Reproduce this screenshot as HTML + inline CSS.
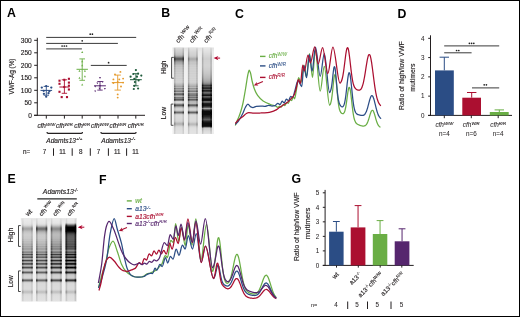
<!DOCTYPE html>
<html><head><meta charset="utf-8"><style>
html,body{margin:0;padding:0;background:#fff;}
body{width:520px;height:317px;overflow:hidden;}
svg{display:block;font-family:"Liberation Sans", sans-serif;will-change:transform;}
</style></head><body>
<svg width="520" height="317" viewBox="0 0 520 317" font-family='"Liberation Sans", sans-serif' fill="#231f20">
<rect x="0" y="0" width="520" height="317" fill="#fff"/>
<text x="7.1" y="17.4" font-size="12.3" fill="#000" font-weight="bold">A</text>
<line x1="37.3" y1="37.8" x2="37.3" y2="115.8" stroke="#231f20" stroke-width="1"/>
<line x1="34" y1="115.3" x2="145" y2="115.3" stroke="#231f20" stroke-width="1"/>
<line x1="34.2" y1="115.3" x2="37.3" y2="115.3" stroke="#231f20" stroke-width="1"/>
<text x="31.8" y="117.6" font-size="6.6" text-anchor="end" stroke="#231f20" stroke-width="0.15">0</text>
<line x1="34.2" y1="102.8" x2="37.3" y2="102.8" stroke="#231f20" stroke-width="1"/>
<text x="31.8" y="105.1" font-size="6.6" text-anchor="end" stroke="#231f20" stroke-width="0.15">50</text>
<line x1="34.2" y1="90.3" x2="37.3" y2="90.3" stroke="#231f20" stroke-width="1"/>
<text x="31.8" y="92.6" font-size="6.6" text-anchor="end" stroke="#231f20" stroke-width="0.15">100</text>
<line x1="34.2" y1="77.8" x2="37.3" y2="77.8" stroke="#231f20" stroke-width="1"/>
<text x="31.8" y="80.1" font-size="6.6" text-anchor="end" stroke="#231f20" stroke-width="0.15">150</text>
<line x1="34.2" y1="65.3" x2="37.3" y2="65.3" stroke="#231f20" stroke-width="1"/>
<text x="31.8" y="67.6" font-size="6.6" text-anchor="end" stroke="#231f20" stroke-width="0.15">200</text>
<line x1="34.2" y1="52.8" x2="37.3" y2="52.8" stroke="#231f20" stroke-width="1"/>
<text x="31.8" y="55.1" font-size="6.6" text-anchor="end" stroke="#231f20" stroke-width="0.15">250</text>
<line x1="34.2" y1="40.3" x2="37.3" y2="40.3" stroke="#231f20" stroke-width="1"/>
<text x="31.8" y="42.6" font-size="6.6" text-anchor="end" stroke="#231f20" stroke-width="0.15">300</text>
<text x="14.1" y="76.5" font-size="7" text-anchor="middle" transform="rotate(-90 14.1 76.5)" textLength="35.9" lengthAdjust="spacingAndGlyphs" stroke="#231f20" stroke-width="0.15">VWF-Ag (%)</text>
<line x1="46.3" y1="115.3" x2="46.3" y2="118.6" stroke="#231f20" stroke-width="1"/>
<text x="46.3" y="127.6" font-size="6.4" text-anchor="middle" font-style="italic" stroke="#231f20" stroke-width="0.15">cfh<tspan font-size="4.3" dy="-2.1" stroke-width="0.12">W/W</tspan></text>
<line x1="64.4" y1="115.3" x2="64.4" y2="118.6" stroke="#231f20" stroke-width="1"/>
<text x="64.4" y="127.6" font-size="6.4" text-anchor="middle" font-style="italic" stroke="#231f20" stroke-width="0.15">cfh<tspan font-size="4.3" dy="-2.1" stroke-width="0.12">W/R</tspan></text>
<line x1="82.2" y1="115.3" x2="82.2" y2="118.6" stroke="#231f20" stroke-width="1"/>
<text x="82.2" y="127.6" font-size="6.4" text-anchor="middle" font-style="italic" stroke="#231f20" stroke-width="0.15">cfh<tspan font-size="4.3" dy="-2.1" stroke-width="0.12">R/R</tspan></text>
<line x1="100" y1="115.3" x2="100" y2="118.6" stroke="#231f20" stroke-width="1"/>
<text x="100" y="127.6" font-size="6.4" text-anchor="middle" font-style="italic" stroke="#231f20" stroke-width="0.15">cfh<tspan font-size="4.3" dy="-2.1" stroke-width="0.12">W/W</tspan></text>
<line x1="118" y1="115.3" x2="118" y2="118.6" stroke="#231f20" stroke-width="1"/>
<text x="118" y="127.6" font-size="6.4" text-anchor="middle" font-style="italic" stroke="#231f20" stroke-width="0.15">cfh<tspan font-size="4.3" dy="-2.1" stroke-width="0.12">W/R</tspan></text>
<line x1="135.8" y1="115.3" x2="135.8" y2="118.6" stroke="#231f20" stroke-width="1"/>
<text x="135.8" y="127.6" font-size="6.4" text-anchor="middle" font-style="italic" stroke="#231f20" stroke-width="0.15">cfh<tspan font-size="4.3" dy="-2.1" stroke-width="0.12">R/R</tspan></text>
<path d="M47,132 Q47,133.4 48.2,133.4 L81.3,133.4 Q82.5,133.4 82.5,132" fill="none" stroke="#231f20" stroke-width="1.2"/>
<path d="M100.9,132 Q100.9,133.4 102.10000000000001,133.4 L134.9,133.4 Q136.1,133.4 136.1,132" fill="none" stroke="#231f20" stroke-width="1.2"/>
<text x="46.3" y="142.7" font-size="6.6" font-style="italic" stroke="#231f20" stroke-width="0.15">Adamts13<tspan font-size="4.4" dy="-2.8">+/+</tspan></text>
<text x="101.3" y="142.7" font-size="6.6" font-style="italic" stroke="#231f20" stroke-width="0.15">Adamts13<tspan font-size="4.4" dy="-2.8">-/-</tspan></text>
<text x="23" y="153.8" font-size="6.3" stroke="#231f20" stroke-width="0.15">n=</text>
<text x="44.4" y="153.8" font-size="6.3" text-anchor="middle" stroke="#231f20" stroke-width="0.15">7</text>
<text x="62.6" y="153.8" font-size="6.3" text-anchor="middle" stroke="#231f20" stroke-width="0.15">11</text>
<text x="80.8" y="153.8" font-size="6.3" text-anchor="middle" stroke="#231f20" stroke-width="0.15">8</text>
<text x="98.5" y="153.8" font-size="6.3" text-anchor="middle" stroke="#231f20" stroke-width="0.15">7</text>
<text x="117.3" y="153.8" font-size="6.3" text-anchor="middle" stroke="#231f20" stroke-width="0.15">11</text>
<text x="135.4" y="153.8" font-size="6.3" text-anchor="middle" stroke="#231f20" stroke-width="0.15">11</text>
<line x1="53.5" y1="148.3" x2="53.5" y2="155.8" stroke="#231f20" stroke-width="1"/>
<line x1="72.2" y1="148.3" x2="72.2" y2="155.8" stroke="#231f20" stroke-width="1"/>
<line x1="90.3" y1="148.3" x2="90.3" y2="155.8" stroke="#231f20" stroke-width="1"/>
<line x1="108.4" y1="148.3" x2="108.4" y2="155.8" stroke="#231f20" stroke-width="1"/>
<line x1="126.6" y1="148.3" x2="126.6" y2="155.8" stroke="#231f20" stroke-width="1"/>
<line x1="46.2" y1="37.4" x2="136.2" y2="37.4" stroke="#3a3a3a" stroke-width="1"/>
<line x1="46.2" y1="43.4" x2="117.9" y2="43.4" stroke="#3a3a3a" stroke-width="1"/>
<line x1="46.2" y1="48.9" x2="81.9" y2="48.9" stroke="#3a3a3a" stroke-width="1"/>
<line x1="90.8" y1="65.4" x2="126.7" y2="65.4" stroke="#3a3a3a" stroke-width="1"/>
<circle cx="90.2" cy="34.2" r="0.85" fill="#222"/>
<circle cx="92.4" cy="34.2" r="0.85" fill="#222"/>
<circle cx="82.2" cy="40.8" r="0.85" fill="#222"/>
<circle cx="62.1" cy="46" r="0.85" fill="#222"/>
<circle cx="64.3" cy="46" r="0.85" fill="#222"/>
<circle cx="66.5" cy="46" r="0.85" fill="#222"/>
<circle cx="108.6" cy="62.7" r="0.85" fill="#222"/>
<circle cx="46.2" cy="86.1" r="1.15" fill="#2b4d85"/>
<circle cx="41.8" cy="87.6" r="1.15" fill="#2b4d85"/>
<circle cx="51.3" cy="87.6" r="1.15" fill="#2b4d85"/>
<circle cx="43.7" cy="90.8" r="1.15" fill="#2b4d85"/>
<circle cx="49.4" cy="91.2" r="1.15" fill="#2b4d85"/>
<circle cx="43.9" cy="93.8" r="1.15" fill="#2b4d85"/>
<circle cx="48.5" cy="93.2" r="1.15" fill="#2b4d85"/>
<circle cx="46.2" cy="96.7" r="1.15" fill="#2b4d85"/>
<line x1="40.5" y1="90.4" x2="52.1" y2="90.4" stroke="#2b4d85" stroke-width="1"/>
<line x1="46.3" y1="86.4" x2="46.3" y2="95.2" stroke="#2b4d85" stroke-width="0.9"/>
<line x1="43.6" y1="86.4" x2="49" y2="86.4" stroke="#2b4d85" stroke-width="0.9"/>
<line x1="43.6" y1="95.2" x2="49" y2="95.2" stroke="#2b4d85" stroke-width="0.9"/>
<rect x="58.45" y="79.65" width="2.1" height="2.1" fill="#ab0f30"/>
<rect x="63.25" y="78.75" width="2.1" height="2.1" fill="#ab0f30"/>
<rect x="67.85" y="77.75" width="2.1" height="2.1" fill="#ab0f30"/>
<rect x="58.45" y="82.75" width="2.1" height="2.1" fill="#ab0f30"/>
<rect x="67.85" y="81.55" width="2.1" height="2.1" fill="#ab0f30"/>
<rect x="67.85" y="84.65" width="2.1" height="2.1" fill="#ab0f30"/>
<rect x="63.25" y="85.95" width="2.1" height="2.1" fill="#ab0f30"/>
<rect x="67.85" y="88.45" width="2.1" height="2.1" fill="#ab0f30"/>
<rect x="58.45" y="90.75" width="2.1" height="2.1" fill="#ab0f30"/>
<rect x="60.65" y="96.05" width="2.1" height="2.1" fill="#ab0f30"/>
<rect x="65.95" y="96.05" width="2.1" height="2.1" fill="#ab0f30"/>
<line x1="59.4" y1="87" x2="69.4" y2="87" stroke="#ab0f30" stroke-width="1"/>
<line x1="64.4" y1="79.8" x2="64.4" y2="93.3" stroke="#ab0f30" stroke-width="0.9"/>
<line x1="61.7" y1="79.8" x2="67.1" y2="79.8" stroke="#ab0f30" stroke-width="0.9"/>
<line x1="61.7" y1="93.3" x2="67.1" y2="93.3" stroke="#ab0f30" stroke-width="0.9"/>
<path d="M82.2,51.06 L83.25,52.96 L81.16,52.96 Z" fill="#6aae45"/>
<path d="M82.2,60.26 L83.25,62.16 L81.16,62.16 Z" fill="#6aae45"/>
<path d="M82.2,64.26 L83.25,66.16 L81.16,66.16 Z" fill="#6aae45"/>
<path d="M79.5,69.76 L80.55,71.66 L78.45,71.66 Z" fill="#6aae45"/>
<path d="M84.9,69.76 L85.95,71.66 L83.86,71.66 Z" fill="#6aae45"/>
<path d="M79.5,76.86 L80.55,78.76 L78.45,78.76 Z" fill="#6aae45"/>
<path d="M84.9,75.36 L85.95,77.26 L83.86,77.26 Z" fill="#6aae45"/>
<path d="M82.2,83.56 L83.25,85.46 L81.16,85.46 Z" fill="#6aae45"/>
<line x1="76.5" y1="69.3" x2="87.9" y2="69.3" stroke="#6aae45" stroke-width="1"/>
<line x1="82.2" y1="58.9" x2="82.2" y2="80.3" stroke="#6aae45" stroke-width="0.9"/>
<line x1="79.4" y1="58.9" x2="85" y2="58.9" stroke="#6aae45" stroke-width="0.9"/>
<line x1="79.4" y1="80.3" x2="85" y2="80.3" stroke="#6aae45" stroke-width="0.9"/>
<path d="M100,78.88 L100.99,77.08 L99.01,77.08 Z" fill="#56266e"/>
<path d="M97.4,84.18 L98.39,82.38 L96.41,82.38 Z" fill="#56266e"/>
<path d="M102.7,82.98 L103.69,81.18 L101.71,81.18 Z" fill="#56266e"/>
<path d="M95.2,87.48 L96.19,85.68 L94.21,85.68 Z" fill="#56266e"/>
<path d="M100,86.88 L100.99,85.08 L99.01,85.08 Z" fill="#56266e"/>
<path d="M104.9,89.78 L105.89,87.98 L103.91,87.98 Z" fill="#56266e"/>
<path d="M95.2,92.28 L96.19,90.48 L94.21,90.48 Z" fill="#56266e"/>
<path d="M99.5,89.58 L100.49,87.78 L98.51,87.78 Z" fill="#56266e"/>
<line x1="94.1" y1="85.8" x2="105.9" y2="85.8" stroke="#56266e" stroke-width="1"/>
<line x1="100" y1="81.5" x2="100" y2="90.1" stroke="#56266e" stroke-width="0.9"/>
<line x1="97.3" y1="81.5" x2="102.7" y2="81.5" stroke="#56266e" stroke-width="0.9"/>
<line x1="97.3" y1="90.1" x2="102.7" y2="90.1" stroke="#56266e" stroke-width="0.9"/>
<circle cx="120.4" cy="71.9" r="0.95" fill="#e59a2c"/>
<circle cx="115" cy="74.4" r="0.95" fill="#e59a2c"/>
<circle cx="113.4" cy="79.4" r="0.95" fill="#e59a2c"/>
<circle cx="119.3" cy="79.4" r="0.95" fill="#e59a2c"/>
<circle cx="123.1" cy="78.6" r="0.95" fill="#e59a2c"/>
<circle cx="113.4" cy="83.1" r="0.95" fill="#e59a2c"/>
<circle cx="117.7" cy="81.9" r="0.95" fill="#e59a2c"/>
<circle cx="123.1" cy="82.6" r="0.95" fill="#e59a2c"/>
<circle cx="117.7" cy="94.4" r="0.95" fill="#e59a2c"/>
<circle cx="117.7" cy="97.6" r="0.95" fill="#e59a2c"/>
<circle cx="121" cy="86.5" r="0.95" fill="#e59a2c"/>
<line x1="111.8" y1="82.6" x2="123.6" y2="82.6" stroke="#e59a2c" stroke-width="1"/>
<line x1="117.7" y1="75.1" x2="117.7" y2="90.1" stroke="#e59a2c" stroke-width="0.9"/>
<line x1="114.5" y1="75.1" x2="120.9" y2="75.1" stroke="#e59a2c" stroke-width="0.9"/>
<line x1="114.5" y1="90.1" x2="120.9" y2="90.1" stroke="#e59a2c" stroke-width="0.9"/>
<circle cx="135.9" cy="70.1" r="1.1" fill="#1e5b3b"/>
<circle cx="133.3" cy="74" r="1.1" fill="#1e5b3b"/>
<circle cx="138.1" cy="73.7" r="1.1" fill="#1e5b3b"/>
<circle cx="130.6" cy="76.7" r="1.1" fill="#1e5b3b"/>
<circle cx="141.3" cy="75.6" r="1.1" fill="#1e5b3b"/>
<circle cx="137" cy="76.7" r="1.1" fill="#1e5b3b"/>
<circle cx="134.3" cy="78.9" r="1.1" fill="#1e5b3b"/>
<circle cx="138.6" cy="80.5" r="1.1" fill="#1e5b3b"/>
<circle cx="134.9" cy="82.1" r="1.1" fill="#1e5b3b"/>
<circle cx="134.3" cy="85.8" r="1.1" fill="#1e5b3b"/>
<circle cx="133.8" cy="89" r="1.1" fill="#1e5b3b"/>
<circle cx="138.1" cy="88.5" r="1.1" fill="#1e5b3b"/>
<line x1="130" y1="79.7" x2="141.8" y2="79.7" stroke="#1e5b3b" stroke-width="1"/>
<line x1="135.9" y1="73.7" x2="135.9" y2="85.8" stroke="#1e5b3b" stroke-width="0.9"/>
<line x1="133.2" y1="73.7" x2="138.6" y2="73.7" stroke="#1e5b3b" stroke-width="0.9"/>
<line x1="133.2" y1="85.8" x2="138.6" y2="85.8" stroke="#1e5b3b" stroke-width="0.9"/>
<text x="161.2" y="17.2" font-size="12.3" fill="#000" font-weight="bold">B</text>
<defs><linearGradient id="edg" x1="0" y1="0" x2="1" y2="0"><stop offset="0" stop-color="#fff"/><stop offset="0.08" stop-color="#fff"/><stop offset="0.22" stop-color="#000"/><stop offset="0.78" stop-color="#000"/><stop offset="0.92" stop-color="#fff"/><stop offset="1" stop-color="#fff"/></linearGradient><mask id="edgm" maskContentUnits="objectBoundingBox"><rect x="0" y="0" width="1" height="1" fill="url(#edg)"/></mask></defs>
<defs><filter id="bl" x="-20%" y="-2%" width="140%" height="104%"><feGaussianBlur stdDeviation="0.45"/></filter><filter id="bl2" x="-20%" y="-2%" width="140%" height="104%"><feGaussianBlur stdDeviation="0.3"/></filter></defs>
<defs><linearGradient id="gbB" x1="0" y1="0" x2="0" y2="1"><stop offset="0" stop-color="#e2e2e2"/><stop offset="0.05" stop-color="#ececec"/><stop offset="0.5" stop-color="#f2f2f2"/><stop offset="1" stop-color="#eeeeee"/></linearGradient></defs>
<rect x="172.5" y="47.5" width="41.5" height="86.5" fill="url(#gbB)" filter="url(#bl2)"/>
<defs><linearGradient id="g2" x1="0" y1="0" x2="0" y2="1"><stop offset="0.000" stop-color="#dedede"/><stop offset="0.006" stop-color="#dbdbdb"/><stop offset="0.012" stop-color="#d9d9d9"/><stop offset="0.017" stop-color="#d6d6d6"/><stop offset="0.023" stop-color="#d4d4d4"/><stop offset="0.029" stop-color="#d3d3d3"/><stop offset="0.035" stop-color="#d1d1d1"/><stop offset="0.040" stop-color="#d0d0d0"/><stop offset="0.046" stop-color="#cecece"/><stop offset="0.052" stop-color="#cdcdcd"/><stop offset="0.058" stop-color="#cacaca"/><stop offset="0.064" stop-color="#c8c8c8"/><stop offset="0.069" stop-color="#c5c5c5"/><stop offset="0.075" stop-color="#c3c3c3"/><stop offset="0.081" stop-color="#c0c0c0"/><stop offset="0.087" stop-color="#bcbcbc"/><stop offset="0.092" stop-color="#b5b5b5"/><stop offset="0.098" stop-color="#acacac"/><stop offset="0.104" stop-color="#9e9e9e"/><stop offset="0.110" stop-color="#8c8c8c"/><stop offset="0.116" stop-color="#7a7a7a"/><stop offset="0.121" stop-color="#696969"/><stop offset="0.127" stop-color="#5d5d5d"/><stop offset="0.133" stop-color="#595959"/><stop offset="0.139" stop-color="#5f5f5f"/><stop offset="0.145" stop-color="#6c6c6c"/><stop offset="0.150" stop-color="#7b7b7b"/><stop offset="0.156" stop-color="#898989"/><stop offset="0.162" stop-color="#959595"/><stop offset="0.168" stop-color="#9e9e9e"/><stop offset="0.173" stop-color="#a5a5a5"/><stop offset="0.179" stop-color="#a9a9a9"/><stop offset="0.185" stop-color="#acacac"/><stop offset="0.191" stop-color="#b0b0b0"/><stop offset="0.197" stop-color="#b6b6b6"/><stop offset="0.202" stop-color="#bdbdbd"/><stop offset="0.208" stop-color="#c0c0c0"/><stop offset="0.214" stop-color="#bfbfbf"/><stop offset="0.220" stop-color="#c0c0c0"/><stop offset="0.225" stop-color="#c4c4c4"/><stop offset="0.231" stop-color="#c7c7c7"/><stop offset="0.237" stop-color="#c7c7c7"/><stop offset="0.243" stop-color="#c5c5c5"/><stop offset="0.249" stop-color="#c6c6c6"/><stop offset="0.254" stop-color="#c9c9c9"/><stop offset="0.260" stop-color="#cbcbcb"/><stop offset="0.266" stop-color="#cacaca"/><stop offset="0.272" stop-color="#c8c8c8"/><stop offset="0.277" stop-color="#c9c9c9"/><stop offset="0.283" stop-color="#cccccc"/><stop offset="0.289" stop-color="#cecece"/><stop offset="0.295" stop-color="#cccccc"/><stop offset="0.301" stop-color="#cbcbcb"/><stop offset="0.306" stop-color="#cccccc"/><stop offset="0.312" stop-color="#cfcfcf"/><stop offset="0.318" stop-color="#d0d0d0"/><stop offset="0.324" stop-color="#cecece"/><stop offset="0.329" stop-color="#cccccc"/><stop offset="0.335" stop-color="#cecece"/><stop offset="0.341" stop-color="#d1d1d1"/><stop offset="0.347" stop-color="#d1d1d1"/><stop offset="0.353" stop-color="#cecece"/><stop offset="0.358" stop-color="#cdcdcd"/><stop offset="0.364" stop-color="#d0d0d0"/><stop offset="0.370" stop-color="#d2d2d2"/><stop offset="0.376" stop-color="#d1d1d1"/><stop offset="0.382" stop-color="#cfcfcf"/><stop offset="0.387" stop-color="#cecece"/><stop offset="0.393" stop-color="#d1d1d1"/><stop offset="0.399" stop-color="#d2d2d2"/><stop offset="0.405" stop-color="#cecece"/><stop offset="0.410" stop-color="#c8c8c8"/><stop offset="0.416" stop-color="#c5c5c5"/><stop offset="0.422" stop-color="#c1c1c1"/><stop offset="0.428" stop-color="#bbbbbb"/><stop offset="0.434" stop-color="#b9b9b9"/><stop offset="0.439" stop-color="#b2b2b2"/><stop offset="0.445" stop-color="#a4a4a4"/><stop offset="0.451" stop-color="#a3a3a3"/><stop offset="0.457" stop-color="#b1b1b1"/><stop offset="0.462" stop-color="#b7b7b7"/><stop offset="0.468" stop-color="#a6a6a6"/><stop offset="0.474" stop-color="#8f8f8f"/><stop offset="0.480" stop-color="#929292"/><stop offset="0.486" stop-color="#a9a9a9"/><stop offset="0.491" stop-color="#b0b0b0"/><stop offset="0.497" stop-color="#969696"/><stop offset="0.503" stop-color="#767676"/><stop offset="0.509" stop-color="#7b7b7b"/><stop offset="0.514" stop-color="#9e9e9e"/><stop offset="0.520" stop-color="#b3b3b3"/><stop offset="0.526" stop-color="#a0a0a0"/><stop offset="0.532" stop-color="#7b7b7b"/><stop offset="0.538" stop-color="#6a6a6a"/><stop offset="0.543" stop-color="#686868"/><stop offset="0.549" stop-color="#757575"/><stop offset="0.555" stop-color="#989898"/><stop offset="0.561" stop-color="#b7b7b7"/><stop offset="0.566" stop-color="#b7b7b7"/><stop offset="0.572" stop-color="#9a9a9a"/><stop offset="0.578" stop-color="#7b7b7b"/><stop offset="0.584" stop-color="#7a7a7a"/><stop offset="0.590" stop-color="#888888"/><stop offset="0.595" stop-color="#7b7b7b"/><stop offset="0.601" stop-color="#5a5a5a"/><stop offset="0.607" stop-color="#585858"/><stop offset="0.613" stop-color="#838383"/><stop offset="0.618" stop-color="#b5b5b5"/><stop offset="0.624" stop-color="#d0d0d0"/><stop offset="0.630" stop-color="#dadada"/><stop offset="0.636" stop-color="#d8d8d8"/><stop offset="0.642" stop-color="#cfcfcf"/><stop offset="0.647" stop-color="#bdbdbd"/><stop offset="0.653" stop-color="#9f9f9f"/><stop offset="0.659" stop-color="#7a7a7a"/><stop offset="0.665" stop-color="#606060"/><stop offset="0.671" stop-color="#5f5f5f"/><stop offset="0.676" stop-color="#767676"/><stop offset="0.682" stop-color="#959595"/><stop offset="0.688" stop-color="#acacac"/><stop offset="0.694" stop-color="#c0c0c0"/><stop offset="0.699" stop-color="#cbcbcb"/><stop offset="0.705" stop-color="#d1d1d1"/><stop offset="0.711" stop-color="#d7d7d7"/><stop offset="0.717" stop-color="#d5d5d5"/><stop offset="0.723" stop-color="#d2d2d2"/><stop offset="0.728" stop-color="#cacaca"/><stop offset="0.734" stop-color="#b8b8b8"/><stop offset="0.740" stop-color="#9a9a9a"/><stop offset="0.746" stop-color="#7a7a7a"/><stop offset="0.751" stop-color="#6c6c6c"/><stop offset="0.757" stop-color="#7c7c7c"/><stop offset="0.763" stop-color="#9e9e9e"/><stop offset="0.769" stop-color="#bebebe"/><stop offset="0.775" stop-color="#d0d0d0"/><stop offset="0.780" stop-color="#d8d8d8"/><stop offset="0.786" stop-color="#d9d9d9"/><stop offset="0.792" stop-color="#d9d9d9"/><stop offset="0.798" stop-color="#d9d9d9"/><stop offset="0.803" stop-color="#d9d9d9"/><stop offset="0.809" stop-color="#d9d9d9"/><stop offset="0.815" stop-color="#d8d8d8"/><stop offset="0.821" stop-color="#d8d8d8"/><stop offset="0.827" stop-color="#d8d8d8"/><stop offset="0.832" stop-color="#d7d7d7"/><stop offset="0.838" stop-color="#d7d7d7"/><stop offset="0.844" stop-color="#d6d6d6"/><stop offset="0.850" stop-color="#d4d4d4"/><stop offset="0.855" stop-color="#d1d1d1"/><stop offset="0.861" stop-color="#cbcbcb"/><stop offset="0.867" stop-color="#c4c4c4"/><stop offset="0.873" stop-color="#bdbdbd"/><stop offset="0.879" stop-color="#b6b6b6"/><stop offset="0.884" stop-color="#b4b4b4"/><stop offset="0.890" stop-color="#b7b7b7"/><stop offset="0.896" stop-color="#bebebe"/><stop offset="0.902" stop-color="#c7c7c7"/><stop offset="0.908" stop-color="#cfcfcf"/><stop offset="0.913" stop-color="#d5d5d5"/><stop offset="0.919" stop-color="#dadada"/><stop offset="0.925" stop-color="#dcdcdc"/><stop offset="0.931" stop-color="#dedede"/><stop offset="0.936" stop-color="#dedede"/><stop offset="0.942" stop-color="#dfdfdf"/><stop offset="0.948" stop-color="#dfdfdf"/><stop offset="0.954" stop-color="#dfdfdf"/><stop offset="0.960" stop-color="#e0e0e0"/><stop offset="0.965" stop-color="#e0e0e0"/><stop offset="0.971" stop-color="#e1e1e1"/><stop offset="0.977" stop-color="#e1e1e1"/><stop offset="0.983" stop-color="#e1e1e1"/><stop offset="0.988" stop-color="#e2e2e2"/><stop offset="0.994" stop-color="#e2e2e2"/><stop offset="1.000" stop-color="#ebebeb"/></linearGradient></defs>
<g filter="url(#bl)"><rect x="174" y="47.5" width="10" height="86.5" fill="url(#g2)"/><rect x="174" y="47.5" width="10" height="86.5" fill="url(#g2)" mask="url(#edgm)" opacity="0.7" style="mix-blend-mode:multiply"/></g>
<defs><linearGradient id="g3" x1="0" y1="0" x2="0" y2="1"><stop offset="0.000" stop-color="#e4e4e4"/><stop offset="0.006" stop-color="#e2e2e2"/><stop offset="0.012" stop-color="#e1e1e1"/><stop offset="0.017" stop-color="#dfdfdf"/><stop offset="0.023" stop-color="#dedede"/><stop offset="0.029" stop-color="#dcdcdc"/><stop offset="0.035" stop-color="#dbdbdb"/><stop offset="0.040" stop-color="#d9d9d9"/><stop offset="0.046" stop-color="#d8d8d8"/><stop offset="0.052" stop-color="#d7d7d7"/><stop offset="0.058" stop-color="#d5d5d5"/><stop offset="0.064" stop-color="#d4d4d4"/><stop offset="0.069" stop-color="#d3d3d3"/><stop offset="0.075" stop-color="#d2d2d2"/><stop offset="0.081" stop-color="#d1d1d1"/><stop offset="0.087" stop-color="#d0d0d0"/><stop offset="0.092" stop-color="#cecece"/><stop offset="0.098" stop-color="#cccccc"/><stop offset="0.104" stop-color="#c8c8c8"/><stop offset="0.110" stop-color="#c2c2c2"/><stop offset="0.116" stop-color="#bcbcbc"/><stop offset="0.121" stop-color="#b5b5b5"/><stop offset="0.127" stop-color="#afafaf"/><stop offset="0.133" stop-color="#acacac"/><stop offset="0.139" stop-color="#adadad"/><stop offset="0.145" stop-color="#b1b1b1"/><stop offset="0.150" stop-color="#b6b6b6"/><stop offset="0.156" stop-color="#bcbcbc"/><stop offset="0.162" stop-color="#c0c0c0"/><stop offset="0.168" stop-color="#c3c3c3"/><stop offset="0.173" stop-color="#c6c6c6"/><stop offset="0.179" stop-color="#c7c7c7"/><stop offset="0.185" stop-color="#c6c6c6"/><stop offset="0.191" stop-color="#c7c7c7"/><stop offset="0.197" stop-color="#cacaca"/><stop offset="0.202" stop-color="#cecece"/><stop offset="0.208" stop-color="#cecece"/><stop offset="0.214" stop-color="#cdcdcd"/><stop offset="0.220" stop-color="#cdcdcd"/><stop offset="0.225" stop-color="#cfcfcf"/><stop offset="0.231" stop-color="#d1d1d1"/><stop offset="0.237" stop-color="#d1d1d1"/><stop offset="0.243" stop-color="#cfcfcf"/><stop offset="0.249" stop-color="#cfcfcf"/><stop offset="0.254" stop-color="#d1d1d1"/><stop offset="0.260" stop-color="#d3d3d3"/><stop offset="0.266" stop-color="#d1d1d1"/><stop offset="0.272" stop-color="#cfcfcf"/><stop offset="0.277" stop-color="#d0d0d0"/><stop offset="0.283" stop-color="#d2d2d2"/><stop offset="0.289" stop-color="#d3d3d3"/><stop offset="0.295" stop-color="#d2d2d2"/><stop offset="0.301" stop-color="#d0d0d0"/><stop offset="0.306" stop-color="#d1d1d1"/><stop offset="0.312" stop-color="#d3d3d3"/><stop offset="0.318" stop-color="#d3d3d3"/><stop offset="0.324" stop-color="#d2d2d2"/><stop offset="0.329" stop-color="#d0d0d0"/><stop offset="0.335" stop-color="#d2d2d2"/><stop offset="0.341" stop-color="#d4d4d4"/><stop offset="0.347" stop-color="#d4d4d4"/><stop offset="0.353" stop-color="#d2d2d2"/><stop offset="0.358" stop-color="#d1d1d1"/><stop offset="0.364" stop-color="#d3d3d3"/><stop offset="0.370" stop-color="#d4d4d4"/><stop offset="0.376" stop-color="#d4d4d4"/><stop offset="0.382" stop-color="#d1d1d1"/><stop offset="0.387" stop-color="#d1d1d1"/><stop offset="0.393" stop-color="#d3d3d3"/><stop offset="0.399" stop-color="#d3d3d3"/><stop offset="0.405" stop-color="#d0d0d0"/><stop offset="0.410" stop-color="#cbcbcb"/><stop offset="0.416" stop-color="#c9c9c9"/><stop offset="0.422" stop-color="#c5c5c5"/><stop offset="0.428" stop-color="#bebebe"/><stop offset="0.434" stop-color="#bcbcbc"/><stop offset="0.439" stop-color="#b6b6b6"/><stop offset="0.445" stop-color="#aaaaaa"/><stop offset="0.451" stop-color="#a8a8a8"/><stop offset="0.457" stop-color="#b5b5b5"/><stop offset="0.462" stop-color="#bababa"/><stop offset="0.468" stop-color="#a9a9a9"/><stop offset="0.474" stop-color="#949494"/><stop offset="0.480" stop-color="#979797"/><stop offset="0.486" stop-color="#acacac"/><stop offset="0.491" stop-color="#b2b2b2"/><stop offset="0.497" stop-color="#999999"/><stop offset="0.503" stop-color="#7b7b7b"/><stop offset="0.509" stop-color="#7f7f7f"/><stop offset="0.514" stop-color="#a1a1a1"/><stop offset="0.520" stop-color="#b5b5b5"/><stop offset="0.526" stop-color="#a6a6a6"/><stop offset="0.532" stop-color="#8b8b8b"/><stop offset="0.538" stop-color="#878787"/><stop offset="0.543" stop-color="#828282"/><stop offset="0.549" stop-color="#717171"/><stop offset="0.555" stop-color="#777777"/><stop offset="0.561" stop-color="#929292"/><stop offset="0.566" stop-color="#969696"/><stop offset="0.572" stop-color="#7d7d7d"/><stop offset="0.578" stop-color="#737373"/><stop offset="0.584" stop-color="#8a8a8a"/><stop offset="0.590" stop-color="#9c9c9c"/><stop offset="0.595" stop-color="#878787"/><stop offset="0.601" stop-color="#616161"/><stop offset="0.607" stop-color="#5d5d5d"/><stop offset="0.613" stop-color="#858585"/><stop offset="0.618" stop-color="#acacac"/><stop offset="0.624" stop-color="#b5b5b5"/><stop offset="0.630" stop-color="#b2b2b2"/><stop offset="0.636" stop-color="#bbbbbb"/><stop offset="0.642" stop-color="#c5c5c5"/><stop offset="0.647" stop-color="#bbbbbb"/><stop offset="0.653" stop-color="#9f9f9f"/><stop offset="0.659" stop-color="#7a7a7a"/><stop offset="0.665" stop-color="#616161"/><stop offset="0.671" stop-color="#616161"/><stop offset="0.676" stop-color="#787878"/><stop offset="0.682" stop-color="#979797"/><stop offset="0.688" stop-color="#afafaf"/><stop offset="0.694" stop-color="#c2c2c2"/><stop offset="0.699" stop-color="#cccccc"/><stop offset="0.705" stop-color="#d1d1d1"/><stop offset="0.711" stop-color="#d6d6d6"/><stop offset="0.717" stop-color="#d5d5d5"/><stop offset="0.723" stop-color="#d2d2d2"/><stop offset="0.728" stop-color="#c9c9c9"/><stop offset="0.734" stop-color="#b5b5b5"/><stop offset="0.740" stop-color="#959595"/><stop offset="0.746" stop-color="#717171"/><stop offset="0.751" stop-color="#626262"/><stop offset="0.757" stop-color="#737373"/><stop offset="0.763" stop-color="#999999"/><stop offset="0.769" stop-color="#bbbbbb"/><stop offset="0.775" stop-color="#cfcfcf"/><stop offset="0.780" stop-color="#d8d8d8"/><stop offset="0.786" stop-color="#dadada"/><stop offset="0.792" stop-color="#dadada"/><stop offset="0.798" stop-color="#dadada"/><stop offset="0.803" stop-color="#dadada"/><stop offset="0.809" stop-color="#dadada"/><stop offset="0.815" stop-color="#dadada"/><stop offset="0.821" stop-color="#dadada"/><stop offset="0.827" stop-color="#dadada"/><stop offset="0.832" stop-color="#dadada"/><stop offset="0.838" stop-color="#d9d9d9"/><stop offset="0.844" stop-color="#d9d9d9"/><stop offset="0.850" stop-color="#d8d8d8"/><stop offset="0.855" stop-color="#d6d6d6"/><stop offset="0.861" stop-color="#d3d3d3"/><stop offset="0.867" stop-color="#cecece"/><stop offset="0.873" stop-color="#c7c7c7"/><stop offset="0.879" stop-color="#c0c0c0"/><stop offset="0.884" stop-color="#bcbcbc"/><stop offset="0.890" stop-color="#bbbbbb"/><stop offset="0.896" stop-color="#bfbfbf"/><stop offset="0.902" stop-color="#c7c7c7"/><stop offset="0.908" stop-color="#cfcfcf"/><stop offset="0.913" stop-color="#d5d5d5"/><stop offset="0.919" stop-color="#dadada"/><stop offset="0.925" stop-color="#dddddd"/><stop offset="0.931" stop-color="#dfdfdf"/><stop offset="0.936" stop-color="#e0e0e0"/><stop offset="0.942" stop-color="#e1e1e1"/><stop offset="0.948" stop-color="#e1e1e1"/><stop offset="0.954" stop-color="#e1e1e1"/><stop offset="0.960" stop-color="#e1e1e1"/><stop offset="0.965" stop-color="#e2e2e2"/><stop offset="0.971" stop-color="#e2e2e2"/><stop offset="0.977" stop-color="#e2e2e2"/><stop offset="0.983" stop-color="#e2e2e2"/><stop offset="0.988" stop-color="#e3e3e3"/><stop offset="0.994" stop-color="#e3e3e3"/><stop offset="1.000" stop-color="#ebebeb"/></linearGradient></defs>
<g filter="url(#bl)"><rect x="187.8" y="47.5" width="10" height="86.5" fill="url(#g3)"/><rect x="187.8" y="47.5" width="10" height="86.5" fill="url(#g3)" mask="url(#edgm)" opacity="0.9" style="mix-blend-mode:multiply"/></g>
<defs><linearGradient id="g4" x1="0" y1="0" x2="0" y2="1"><stop offset="0.000" stop-color="#e8e8e8"/><stop offset="0.006" stop-color="#e7e7e7"/><stop offset="0.012" stop-color="#e6e6e6"/><stop offset="0.017" stop-color="#e5e5e5"/><stop offset="0.023" stop-color="#e4e4e4"/><stop offset="0.029" stop-color="#e4e4e4"/><stop offset="0.035" stop-color="#e3e3e3"/><stop offset="0.040" stop-color="#e2e2e2"/><stop offset="0.046" stop-color="#e1e1e1"/><stop offset="0.052" stop-color="#e0e0e0"/><stop offset="0.058" stop-color="#dfdfdf"/><stop offset="0.064" stop-color="#dedede"/><stop offset="0.069" stop-color="#dcdcdc"/><stop offset="0.075" stop-color="#dbdbdb"/><stop offset="0.081" stop-color="#dadada"/><stop offset="0.087" stop-color="#d8d8d8"/><stop offset="0.092" stop-color="#d7d7d7"/><stop offset="0.098" stop-color="#d6d6d6"/><stop offset="0.104" stop-color="#d5d5d5"/><stop offset="0.110" stop-color="#d4d4d4"/><stop offset="0.116" stop-color="#d2d2d2"/><stop offset="0.121" stop-color="#d1d1d1"/><stop offset="0.127" stop-color="#d0d0d0"/><stop offset="0.133" stop-color="#cecece"/><stop offset="0.139" stop-color="#cfcfcf"/><stop offset="0.145" stop-color="#d2d2d2"/><stop offset="0.150" stop-color="#d2d2d2"/><stop offset="0.156" stop-color="#d2d2d2"/><stop offset="0.162" stop-color="#d2d2d2"/><stop offset="0.168" stop-color="#d3d3d3"/><stop offset="0.173" stop-color="#d3d3d3"/><stop offset="0.179" stop-color="#d3d3d3"/><stop offset="0.185" stop-color="#d3d3d3"/><stop offset="0.191" stop-color="#d3d3d3"/><stop offset="0.197" stop-color="#d4d4d4"/><stop offset="0.202" stop-color="#d4d4d4"/><stop offset="0.208" stop-color="#d4d4d4"/><stop offset="0.214" stop-color="#d4d4d4"/><stop offset="0.220" stop-color="#d3d3d3"/><stop offset="0.225" stop-color="#d2d2d2"/><stop offset="0.231" stop-color="#d2d2d2"/><stop offset="0.237" stop-color="#d1d1d1"/><stop offset="0.243" stop-color="#d0d0d0"/><stop offset="0.249" stop-color="#d0d0d0"/><stop offset="0.254" stop-color="#cfcfcf"/><stop offset="0.260" stop-color="#cecece"/><stop offset="0.266" stop-color="#cdcdcd"/><stop offset="0.272" stop-color="#cccccc"/><stop offset="0.277" stop-color="#cbcbcb"/><stop offset="0.283" stop-color="#cacaca"/><stop offset="0.289" stop-color="#c9c9c9"/><stop offset="0.295" stop-color="#c8c8c8"/><stop offset="0.301" stop-color="#c7c7c7"/><stop offset="0.306" stop-color="#c6c6c6"/><stop offset="0.312" stop-color="#c4c4c4"/><stop offset="0.318" stop-color="#c3c3c3"/><stop offset="0.324" stop-color="#c1c1c1"/><stop offset="0.329" stop-color="#c0c0c0"/><stop offset="0.335" stop-color="#bebebe"/><stop offset="0.341" stop-color="#bcbcbc"/><stop offset="0.347" stop-color="#bbbbbb"/><stop offset="0.353" stop-color="#b9b9b9"/><stop offset="0.358" stop-color="#b7b7b7"/><stop offset="0.364" stop-color="#b5b5b5"/><stop offset="0.370" stop-color="#b2b2b2"/><stop offset="0.376" stop-color="#b0b0b0"/><stop offset="0.382" stop-color="#adadad"/><stop offset="0.387" stop-color="#a9a9a9"/><stop offset="0.393" stop-color="#a6a6a6"/><stop offset="0.399" stop-color="#a2a2a2"/><stop offset="0.405" stop-color="#9b9b9b"/><stop offset="0.410" stop-color="#939393"/><stop offset="0.416" stop-color="#8b8b8b"/><stop offset="0.422" stop-color="#848484"/><stop offset="0.428" stop-color="#6c6c6c"/><stop offset="0.434" stop-color="#525252"/><stop offset="0.439" stop-color="#3e3e3e"/><stop offset="0.445" stop-color="#4b4b4b"/><stop offset="0.451" stop-color="#585858"/><stop offset="0.457" stop-color="#4b4b4b"/><stop offset="0.462" stop-color="#383838"/><stop offset="0.468" stop-color="#262626"/><stop offset="0.474" stop-color="#2c2c2c"/><stop offset="0.480" stop-color="#434343"/><stop offset="0.486" stop-color="#5a5a5a"/><stop offset="0.491" stop-color="#3f3f3f"/><stop offset="0.497" stop-color="#242424"/><stop offset="0.503" stop-color="#262626"/><stop offset="0.509" stop-color="#3b3b3b"/><stop offset="0.514" stop-color="#505050"/><stop offset="0.520" stop-color="#6c6c6c"/><stop offset="0.526" stop-color="#727272"/><stop offset="0.532" stop-color="#575757"/><stop offset="0.538" stop-color="#3c3c3c"/><stop offset="0.543" stop-color="#2e2e2e"/><stop offset="0.549" stop-color="#202020"/><stop offset="0.555" stop-color="#121212"/><stop offset="0.561" stop-color="#333333"/><stop offset="0.566" stop-color="#616161"/><stop offset="0.572" stop-color="#646464"/><stop offset="0.578" stop-color="#4b4b4b"/><stop offset="0.584" stop-color="#343434"/><stop offset="0.590" stop-color="#222222"/><stop offset="0.595" stop-color="#0f0f0f"/><stop offset="0.601" stop-color="#111111"/><stop offset="0.607" stop-color="#121212"/><stop offset="0.613" stop-color="#141414"/><stop offset="0.618" stop-color="#3d3d3d"/><stop offset="0.624" stop-color="#666666"/><stop offset="0.630" stop-color="#808080"/><stop offset="0.636" stop-color="#5b5b5b"/><stop offset="0.642" stop-color="#373737"/><stop offset="0.647" stop-color="#242424"/><stop offset="0.653" stop-color="#1d1d1d"/><stop offset="0.659" stop-color="#161616"/><stop offset="0.665" stop-color="#0f0f0f"/><stop offset="0.671" stop-color="#1a1a1a"/><stop offset="0.676" stop-color="#262626"/><stop offset="0.682" stop-color="#313131"/><stop offset="0.688" stop-color="#3c3c3c"/><stop offset="0.694" stop-color="#5f5f5f"/><stop offset="0.699" stop-color="#828282"/><stop offset="0.705" stop-color="#a5a5a5"/><stop offset="0.711" stop-color="#828282"/><stop offset="0.717" stop-color="#5f5f5f"/><stop offset="0.723" stop-color="#3c3c3c"/><stop offset="0.728" stop-color="#2d2d2d"/><stop offset="0.734" stop-color="#1e1e1e"/><stop offset="0.740" stop-color="#0f0f0f"/><stop offset="0.746" stop-color="#0e0e0e"/><stop offset="0.751" stop-color="#0c0c0c"/><stop offset="0.757" stop-color="#0b0b0b"/><stop offset="0.763" stop-color="#0a0a0a"/><stop offset="0.769" stop-color="#0d0d0d"/><stop offset="0.775" stop-color="#111111"/><stop offset="0.780" stop-color="#141414"/><stop offset="0.786" stop-color="#1a1a1a"/><stop offset="0.792" stop-color="#202020"/><stop offset="0.798" stop-color="#272727"/><stop offset="0.803" stop-color="#2d2d2d"/><stop offset="0.809" stop-color="#373737"/><stop offset="0.815" stop-color="#414141"/><stop offset="0.821" stop-color="#4b4b4b"/><stop offset="0.827" stop-color="#555555"/><stop offset="0.832" stop-color="#5f5f5f"/><stop offset="0.838" stop-color="#515151"/><stop offset="0.844" stop-color="#444444"/><stop offset="0.850" stop-color="#363636"/><stop offset="0.855" stop-color="#282828"/><stop offset="0.861" stop-color="#202020"/><stop offset="0.867" stop-color="#191919"/><stop offset="0.873" stop-color="#121212"/><stop offset="0.879" stop-color="#0a0a0a"/><stop offset="0.884" stop-color="#0a0a0a"/><stop offset="0.890" stop-color="#0a0a0a"/><stop offset="0.896" stop-color="#0a0a0a"/><stop offset="0.902" stop-color="#0a0a0a"/><stop offset="0.908" stop-color="#181818"/><stop offset="0.913" stop-color="#252525"/><stop offset="0.919" stop-color="#595959"/><stop offset="0.925" stop-color="#969696"/><stop offset="0.931" stop-color="#b5b5b5"/><stop offset="0.936" stop-color="#cdcdcd"/><stop offset="0.942" stop-color="#d0d0d0"/><stop offset="0.948" stop-color="#d2d2d2"/><stop offset="0.954" stop-color="#d5d5d5"/><stop offset="0.960" stop-color="#d8d8d8"/><stop offset="0.965" stop-color="#dadada"/><stop offset="0.971" stop-color="#dcdcdc"/><stop offset="0.977" stop-color="#dddddd"/><stop offset="0.983" stop-color="#dfdfdf"/><stop offset="0.988" stop-color="#e0e0e0"/><stop offset="0.994" stop-color="#e2e2e2"/><stop offset="1.000" stop-color="#ebebeb"/></linearGradient></defs>
<g filter="url(#bl)"><rect x="201.8" y="47.5" width="10.1" height="86.5" fill="url(#g4)"/><rect x="201.8" y="47.5" width="10.1" height="86.5" fill="url(#g4)" mask="url(#edgm)" opacity="1.0" style="mix-blend-mode:multiply"/></g>
<path d="M173.8,57.4 L171.6,57.4 L171.6,78.2 L173.8,78.2" fill="none" stroke="#333" stroke-width="0.9"/>
<path d="M173.4,104.1 L171.2,104.1 L171.2,125.3 L173.4,125.3" fill="none" stroke="#333" stroke-width="0.9"/>
<text x="166.2" y="67.2" font-size="6.3" text-anchor="middle" transform="rotate(-90 166.2 67.2)" textLength="13.4" lengthAdjust="spacingAndGlyphs" stroke="#231f20" stroke-width="0.15">High</text>
<text x="166.4" y="113" font-size="6.3" text-anchor="middle" transform="rotate(-90 166.4 113)" textLength="12.3" lengthAdjust="spacingAndGlyphs" stroke="#231f20" stroke-width="0.15">Low</text>
<path d="M213.6,58.1 L218.4,56 L216.96,58.1 L218.4,60.2 Z" fill="#b0002a"/>
<line x1="216.48" y1="58.1" x2="220.1" y2="58.1" stroke="#b0002a" stroke-width="1"/>
<text x="178.3" y="43.4" font-size="6.6" transform="rotate(-45 178.3 43.4)" stroke="#231f20" stroke-width="0.15">cfh<tspan font-size="4.6" dx="0.6" dy="-3.2" stroke-width="0.12">W/W</tspan></text>
<text x="192" y="43.4" font-size="6.6" transform="rotate(-45 192 43.4)" stroke="#231f20" stroke-width="0.15">cfh<tspan font-size="4.6" dx="0.6" dy="-3.2" stroke-width="0.12">W/R</tspan></text>
<text x="206.2" y="43.4" font-size="6.6" transform="rotate(-45 206.2 43.4)" stroke="#231f20" stroke-width="0.15">cfh<tspan font-size="4.6" dx="0.6" dy="-3.2" stroke-width="0.12">R/R</tspan></text>
<text x="234.9" y="17.6" font-size="12.3" fill="#000" font-weight="bold">C</text>
<path d="M235.3,125.5C235.73,124.3 236.17,122.99 236.6,121.9C237.4,119.89 238.2,118.52 239,116.5C239.67,114.82 240.33,113 241,110.8C241.67,108.6 242.33,106.06 243,103C243.47,100.86 243.93,98.01 244.4,95.4C244.8,93.16 245.2,90.93 245.6,88.5C245.93,86.48 246.27,84.15 246.6,82.1C247,79.64 247.4,76.75 247.8,75C248.27,72.96 248.73,70.2 249.2,70.2C249.63,70.2 250.07,71.71 250.5,73C251.03,74.58 251.57,78.78 252.1,81C252.83,84.05 253.57,86.78 254.3,88.7C255.4,91.58 256.5,93.88 257.6,95.4C259.43,97.93 261.27,99.68 263.1,100.9C265.33,102.39 267.57,103.29 269.8,104.2C270.53,104.5 271.27,104.81 272,105C273.03,105.27 274.07,105.29 275.1,105.6C276.03,105.88 276.97,107.4 277.9,107.4C278.53,107.4 279.17,106.2 279.8,106.2C280.27,106.2 280.73,107 281.2,107C281.87,107 282.53,104.6 283.2,104.6C283.73,104.6 284.27,105.6 284.8,105.6C285.47,105.6 286.13,102.4 286.8,102.4C287.3,102.4 287.8,103.4 288.3,103.4C288.93,103.4 289.57,99.4 290.2,99.4C290.7,99.4 291.2,100.6 291.7,100.6C292.23,100.6 292.77,96.8 293.3,96.8C293.73,96.8 294.17,98.8 294.6,98.8C295.17,98.8 295.73,93.55 296.3,90.6C297.07,86.61 297.83,77.5 298.6,77.5C299.4,77.5 300.2,82.5 301,82.5C302,82.5 303,65 304,65C304.8,65 305.6,77 306.4,77C307.43,77 308.47,53.5 309.5,53.5C310.5,53.5 311.5,77.5 312.5,77.5C313.43,77.5 314.37,50 315.3,50C316.93,50 318.57,91.2 320.2,91.2C321.57,91.2 322.93,66.3 324.3,66.3C326.07,66.3 327.83,105.29 329.6,105.29C329.77,105.29 329.93,104.9 330.1,104.61C330.27,104.33 330.43,103.95 330.6,103.48C330.77,103.02 330.93,102.4 331.1,101.68C331.27,100.97 331.43,100.05 331.6,99.03C331.77,98.01 331.93,96.76 332.1,95.43C332.27,94.1 332.43,92.55 332.6,90.99C332.77,89.43 332.93,87.68 333.1,86.05C333.27,84.42 333.43,82.67 333.6,81.21C333.77,79.76 333.93,78.23 334.1,77.23C334.27,76.24 334.43,75.02 334.6,74.83C334.77,74.65 334.93,74.52 335.1,74.52C335.27,74.52 335.43,75.56 335.6,76.4C335.77,77.24 335.93,78.75 336.1,80.2C336.27,81.66 336.43,83.52 336.6,85.3C336.77,87.08 336.93,89.08 337.1,90.92C337.27,92.77 337.43,94.68 337.6,96.37C337.77,98.06 337.93,99.71 338.1,101.11C338.27,102.52 338.43,103.83 338.6,104.92C338.77,106 338.93,106.97 339.1,107.75C339.27,108.54 339.43,109.22 339.6,109.76C339.77,110.3 339.93,110.76 340.1,111.13C340.27,111.5 340.43,111.81 340.6,112.06C340.77,112.31 340.93,112.52 341.1,112.7C341.27,112.88 341.43,113.03 341.6,113.16C341.77,113.28 341.93,113.39 342.1,113.47C342.27,113.54 342.43,113.63 342.6,113.63C342.77,113.63 342.93,113.62 343.1,113.61C343.27,113.59 343.43,113.47 343.6,113.35C343.77,113.23 343.93,113.01 344.1,112.76C344.27,112.51 344.43,112.15 344.6,111.73C344.77,111.31 344.93,110.76 345.1,110.14C345.27,109.53 345.43,108.76 345.6,107.93C345.77,107.1 345.93,106.11 346.1,105.07C346.27,104.04 346.43,102.86 346.6,101.67C346.77,100.49 346.93,99.19 347.1,97.95C347.27,96.71 347.43,95.4 347.6,94.24C347.77,93.08 347.93,91.89 348.1,90.97C348.27,90.04 348.43,89.08 348.6,88.55C348.77,88.01 348.93,87.34 349.1,87.34C349.27,87.34 349.43,87.44 349.6,87.57C349.77,87.7 349.93,88.53 350.1,89.24C350.27,89.95 350.43,91.07 350.6,92.19C350.77,93.3 350.93,94.69 351.1,96.06C351.27,97.44 351.43,98.98 351.6,100.45C351.77,101.93 351.93,103.48 352.1,104.93C352.27,106.37 352.43,107.82 352.6,109.13C352.77,110.44 352.93,111.7 353.1,112.81C353.27,113.92 353.43,114.96 353.6,115.85C353.77,116.75 353.93,117.56 354.1,118.24C354.27,118.92 354.43,119.53 354.6,120.04C354.77,120.54 354.93,120.98 355.1,121.35C355.27,121.72 355.43,122.03 355.6,122.3C355.77,122.56 355.93,122.79 356.1,122.99C356.27,123.18 356.43,123.35 356.6,123.5C356.77,123.65 356.93,123.78 357.1,123.9C357.27,124.02 357.43,124.13 357.6,124.23C357.77,124.33 357.93,124.42 358.1,124.51C358.27,124.6 358.43,124.69 358.6,124.77C358.77,124.85 358.93,124.92 359.1,125C359.27,125.07 359.43,125.14 359.6,125.21C359.77,125.27 359.93,125.34 360.1,125.4C360.27,125.46 360.43,125.51 360.6,125.57C360.77,125.62 360.93,125.67 361.1,125.72C361.27,125.76 361.43,125.81 361.6,125.84C361.77,125.88 361.93,125.92 362.1,125.94C362.27,125.97 362.43,126 362.6,126.01C362.77,126.02 362.93,126.04 363.1,126.04C363.27,126.04 363.43,126.04 363.6,126.04C363.77,126.03 363.93,126.01 364.1,125.99C364.27,125.96 364.43,125.92 364.6,125.87C364.77,125.82 364.93,125.75 365.1,125.67C365.27,125.59 365.43,125.48 365.6,125.35C365.77,125.22 365.93,125.06 366.1,124.88C366.27,124.7 366.43,124.48 366.6,124.24C366.77,123.99 366.93,123.7 367.1,123.39C367.27,123.07 367.43,122.71 367.6,122.32C367.77,121.93 367.93,121.49 368.1,121.03C368.27,120.57 368.43,120.07 368.6,119.55C368.77,119.03 368.93,118.48 369.1,117.92C369.27,117.36 369.43,116.78 369.6,116.22C369.77,115.65 369.93,115.07 370.1,114.54C370.27,114 370.43,113.46 370.6,112.99C370.77,112.53 370.93,112.06 371.1,111.7C371.27,111.34 371.43,110.98 371.6,110.77C371.77,110.55 371.93,110.28 372.1,110.27C372.27,110.26 372.43,110.25 372.6,110.25C372.77,110.25 372.93,110.52 373.1,110.72C373.27,110.93 373.43,111.29 373.6,111.65C373.77,112.01 373.93,112.47 374.1,112.94C374.27,113.42 374.43,113.96 374.6,114.51C374.77,115.06 374.93,115.66 375.1,116.25C375.27,116.83 375.43,117.44 375.6,118.02C375.77,118.61 375.93,119.2 376.1,119.75C376.27,120.3 376.43,120.85 376.6,121.34C376.77,121.84 376.93,122.32 377.1,122.75C377.27,123.18 377.43,123.59 377.6,123.95C377.77,124.3 377.93,124.63 378.1,124.92C378.27,125.21 378.43,125.47 378.6,125.69C378.77,125.92 378.93,126.12 379.1,126.29C379.27,126.45 379.43,126.6 379.6,126.73C379.77,126.85 379.93,126.96 380.1,127.05C380.23,127.12 380.37,127.18 380.5,127.24" fill="none" stroke="#6aae45" stroke-width="1.25" stroke-linejoin="round"/>
<path d="M235.3,124.5C236.4,123.27 237.5,122.29 238.6,120.8C240.07,118.81 241.53,116.03 243,113C243.77,111.41 244.53,108.78 245.3,107.5C246.17,106.05 247.03,104.2 247.9,104.2C248.87,104.2 249.83,106.5 250.8,106.9C251.53,107.2 252.27,107.5 253,107.5C254.1,107.5 255.2,106.56 256.3,106.4C257.77,106.18 259.23,106 260.7,106C262.17,106 263.63,106.4 265.1,106.4C266.23,106.4 267.37,105.3 268.5,105.3C269.67,105.3 270.83,106 272,106C273,106 274,105.83 275,105.6C275.97,105.38 276.93,103.3 277.9,103.3C278.6,103.3 279.3,104.6 280,104.6C280.73,104.6 281.47,101.2 282.2,101.2C282.87,101.2 283.53,103 284.2,103C284.93,103 285.67,99.1 286.4,99.1C287.1,99.1 287.8,100.8 288.5,100.8C289.23,100.8 289.97,96.3 290.7,96.3C291.33,96.3 291.97,97.5 292.6,97.5C293.37,97.5 294.13,92.99 294.9,90.6C295.93,87.38 296.97,80.5 298,80.5C299.23,80.5 300.47,86.6 301.7,86.6C302.43,86.6 303.17,65.7 303.9,65.7C304.8,65.7 305.7,77.7 306.6,77.7C307.53,77.7 308.47,54.7 309.4,54.7C310.3,54.7 311.2,71.2 312.1,71.2C313.23,71.2 314.37,47 315.5,47C317.07,47 318.63,76.4 320.2,76.4C321.57,76.4 322.93,53.6 324.3,53.6C326.07,53.6 327.83,92.55 329.6,92.55C329.77,92.55 329.93,92.17 330.1,91.9C330.27,91.63 330.43,91.25 330.6,90.8C330.77,90.34 330.93,89.71 331.1,88.99C331.27,88.27 331.43,87.33 331.6,86.29C331.77,85.26 331.93,83.97 332.1,82.64C332.27,81.31 332.43,79.74 332.6,78.24C332.77,76.74 332.93,75.06 333.1,73.62C333.27,72.19 333.43,70.64 333.6,69.58C333.77,68.53 333.93,67.26 334.1,66.98C334.27,66.71 334.43,66.5 334.6,66.5C334.77,66.5 334.93,67.53 335.1,68.38C335.27,69.23 335.43,70.83 335.6,72.36C335.77,73.89 335.93,75.87 336.1,77.75C336.27,79.63 336.43,81.75 336.6,83.67C336.77,85.6 336.93,87.59 337.1,89.32C337.27,91.06 337.43,92.74 337.6,94.16C337.77,95.57 337.93,96.87 338.1,97.95C338.27,99.02 338.43,99.96 338.6,100.73C338.77,101.5 338.93,102.16 339.1,102.7C339.27,103.24 339.43,103.69 339.6,104.08C339.77,104.46 339.93,104.79 340.1,105.07C340.27,105.35 340.43,105.59 340.6,105.8C340.77,106.01 340.93,106.19 341.1,106.34C341.27,106.49 341.43,106.64 341.6,106.72C341.77,106.8 341.93,106.91 342.1,106.91C342.27,106.91 342.43,106.88 342.6,106.84C342.77,106.81 342.93,106.65 343.1,106.5C343.27,106.35 343.43,106.09 343.6,105.79C343.77,105.5 343.93,105.08 344.1,104.6C344.27,104.13 344.43,103.51 344.6,102.82C344.77,102.12 344.93,101.27 345.1,100.34C345.27,99.41 345.43,98.31 345.6,97.14C345.77,95.97 345.93,94.64 346.1,93.28C346.27,91.92 346.43,90.42 346.6,88.94C346.77,87.47 346.93,85.89 347.1,84.41C347.27,82.94 347.43,81.42 347.6,80.09C347.77,78.77 347.93,77.44 348.1,76.42C348.27,75.41 348.43,74.37 348.6,73.83C348.77,73.28 348.93,72.64 349.1,72.64C349.27,72.64 349.43,72.81 349.6,73.03C349.77,73.24 349.93,74.16 350.1,74.98C350.27,75.79 350.43,77.03 350.6,78.28C350.77,79.52 350.93,81.05 351.1,82.57C351.27,84.09 351.43,85.79 351.6,87.43C351.77,89.07 351.93,90.79 352.1,92.41C352.27,94.03 352.43,95.65 352.6,97.14C352.77,98.62 352.93,100.06 353.1,101.34C353.27,102.61 353.43,103.82 353.6,104.86C353.77,105.89 353.93,106.85 354.1,107.66C354.27,108.46 354.43,109.19 354.6,109.78C354.77,110.38 354.93,110.91 355.1,111.34C355.27,111.77 355.43,112.14 355.6,112.44C355.77,112.73 355.93,112.99 356.1,113.2C356.27,113.4 356.43,113.58 356.6,113.72C356.77,113.87 356.93,113.99 357.1,114.09C357.27,114.19 357.43,114.28 357.6,114.36C357.77,114.44 357.93,114.51 358.1,114.57C358.27,114.63 358.43,114.69 358.6,114.75C358.77,114.8 358.93,114.85 359.1,114.9C359.27,114.94 359.43,114.99 359.6,115.03C359.77,115.08 359.93,115.12 360.1,115.16C360.27,115.19 360.43,115.23 360.6,115.26C360.77,115.3 360.93,115.33 361.1,115.35C361.27,115.38 361.43,115.4 361.6,115.42C361.77,115.43 361.93,115.44 362.1,115.44C362.27,115.44 362.43,115.43 362.6,115.42C362.77,115.41 362.93,115.37 363.1,115.33C363.27,115.29 363.43,115.23 363.6,115.15C363.77,115.08 363.93,114.98 364.1,114.87C364.27,114.75 364.43,114.6 364.6,114.44C364.77,114.27 364.93,114.07 365.1,113.84C365.27,113.62 365.43,113.35 365.6,113.05C365.77,112.76 365.93,112.42 366.1,112.05C366.27,111.69 366.43,111.27 366.6,110.83C366.77,110.39 366.93,109.9 367.1,109.38C367.27,108.87 367.43,108.31 367.6,107.74C367.77,107.17 367.93,106.55 368.1,105.94C368.27,105.32 368.43,104.67 368.6,104.04C368.77,103.4 368.93,102.75 369.1,102.12C369.27,101.5 369.43,100.86 369.6,100.28C369.77,99.7 369.93,99.13 370.1,98.63C370.27,98.13 370.43,97.64 370.6,97.25C370.77,96.87 370.93,96.49 371.1,96.25C371.27,96.02 371.43,95.74 371.6,95.7C371.77,95.65 371.93,95.63 372.1,95.63C372.27,95.63 372.43,95.86 372.6,96.05C372.77,96.24 372.93,96.59 373.1,96.95C373.27,97.3 373.43,97.77 373.6,98.26C373.77,98.75 373.93,99.33 374.1,99.92C374.27,100.51 374.43,101.16 374.6,101.82C374.77,102.47 374.93,103.17 375.1,103.86C375.27,104.55 375.43,105.25 375.6,105.94C375.77,106.63 375.93,107.32 376.1,107.97C376.27,108.63 376.43,109.28 376.6,109.88C376.77,110.49 376.93,111.08 377.1,111.62C377.27,112.16 377.43,112.68 377.6,113.15C377.77,113.62 377.93,114.06 378.1,114.46C378.27,114.86 378.43,115.22 378.6,115.55C378.77,115.88 378.93,116.18 379.1,116.44C379.27,116.7 379.43,116.94 379.6,117.15C379.77,117.36 379.93,117.54 380.1,117.71C380.27,117.87 380.43,118.02 380.6,118.14C380.77,118.27 380.93,118.38 381.1,118.48C381.13,118.5 381.17,118.52 381.2,118.54" fill="none" stroke="#2b4d85" stroke-width="1.25" stroke-linejoin="round"/>
<path d="M235.3,123.5C236.4,122.23 237.5,120.71 238.6,119.7C240.07,118.35 241.53,117.57 243,116.4C244.13,115.49 245.27,114.11 246.4,113.5C247.13,113.1 247.87,112.6 248.6,112.6C250.4,112.6 252.2,113.2 254,113.2C256.23,113.2 258.47,113.09 260.7,113C262.93,112.91 265.17,112.82 267.4,112.6C268.93,112.45 270.47,112.03 272,111.6C273.03,111.31 274.07,110.9 275.1,110.4C276.5,109.72 277.9,108.52 279.3,107.6C280.73,106.66 282.17,105.76 283.6,104.8C285,103.86 286.4,103.04 287.8,101.9C289,100.93 290.2,99.74 291.4,98.4C292.33,97.36 293.27,96.55 294.2,94.8C294.9,93.48 295.6,90.46 296.3,88C297.03,85.42 297.77,79.5 298.5,79.5C299.13,79.5 299.77,83.5 300.4,83.5C301.2,83.5 302,65.2 302.8,65.2C303.33,65.2 303.87,71 304.4,71C305.6,71 306.8,55 308,55C308.8,55 309.6,63 310.4,63C311.83,63 313.27,46.8 314.7,46.8C315.87,46.8 317.03,64 318.2,64C319.67,64 321.13,47.5 322.6,47.5C324.33,47.5 326.07,73.7 327.8,73.7C329.5,73.7 331.2,47.2 332.9,47.2C335.27,47.2 337.63,83.2 340,83.2C340.17,83.2 340.33,82.9 340.5,82.7C340.67,82.5 340.83,82.25 341,81.96C341.17,81.67 341.33,81.32 341.5,80.91C341.67,80.5 341.83,80 342,79.45C342.17,78.89 342.33,78.23 342.5,77.51C342.67,76.78 342.83,75.94 343,75.03C343.17,74.13 343.33,73.1 343.5,72.01C343.67,70.93 343.83,69.73 344,68.5C344.17,67.27 344.33,65.93 344.5,64.61C344.67,63.29 344.83,61.89 345,60.55C345.17,59.21 345.33,57.84 345.5,56.58C345.67,55.33 345.83,54.07 346,53.02C346.17,51.96 346.33,50.91 346.5,50.16C346.67,49.4 346.83,48.62 347,48.28C347.17,47.95 347.33,47.59 347.5,47.59C347.67,47.59 347.83,47.87 348,48.16C348.17,48.44 348.33,49.21 348.5,49.95C348.67,50.68 348.83,51.74 349,52.81C349.17,53.88 349.33,55.19 349.5,56.5C349.67,57.81 349.83,59.27 350,60.7C350.17,62.14 350.33,63.66 350.5,65.12C350.67,66.58 350.83,68.06 351,69.45C351.17,70.85 351.33,72.22 351.5,73.48C351.67,74.74 351.83,75.96 352,77.05C352.17,78.14 352.33,79.16 352.5,80.07C352.67,80.98 352.83,81.81 353,82.54C353.17,83.26 353.33,83.92 353.5,84.48C353.67,85.05 353.83,85.55 354,85.98C354.17,86.41 354.33,86.79 354.5,87.11C354.67,87.43 354.83,87.71 355,87.96C355.17,88.2 355.33,88.41 355.5,88.59C355.67,88.77 355.83,88.93 356,89.07C356.17,89.21 356.33,89.33 356.5,89.44C356.67,89.55 356.83,89.65 357,89.73C357.17,89.81 357.33,89.89 357.5,89.95C357.67,90.02 357.83,90.08 358,90.12C358.17,90.16 358.33,90.2 358.5,90.21C358.67,90.22 358.83,90.23 359,90.23C359.17,90.23 359.33,90.18 359.5,90.14C359.67,90.09 359.83,90.01 360,89.93C360.17,89.84 360.33,89.71 360.5,89.56C360.67,89.42 360.83,89.23 361,89.01C361.17,88.8 361.33,88.53 361.5,88.23C361.67,87.93 361.83,87.58 362,87.18C362.17,86.78 362.33,86.32 362.5,85.82C362.67,85.32 362.83,84.75 363,84.13C363.17,83.51 363.33,82.83 363.5,82.09C363.67,81.36 363.83,80.56 364,79.71C364.17,78.87 364.33,77.96 364.5,77.02C364.67,76.08 364.83,75.08 365,74.06C365.17,73.05 365.33,71.98 365.5,70.92C365.67,69.87 365.83,68.77 366,67.71C366.17,66.65 366.33,65.57 366.5,64.55C366.67,63.53 366.83,62.52 367,61.59C367.17,60.66 367.33,59.75 367.5,58.97C367.67,58.19 367.83,57.43 368,56.84C368.17,56.25 368.33,55.67 368.5,55.33C368.67,54.98 368.83,54.54 369,54.52C369.17,54.51 369.33,54.5 369.5,54.5C369.67,54.5 369.83,54.93 370,55.28C370.17,55.62 370.33,56.21 370.5,56.83C370.67,57.44 370.83,58.25 371,59.09C371.17,59.94 371.33,60.94 371.5,61.97C371.67,63 371.83,64.16 372,65.33C372.17,66.51 372.33,67.77 372.5,69.04C372.67,70.3 372.83,71.63 373,72.93C373.17,74.24 373.33,75.57 373.5,76.88C373.67,78.18 373.83,79.48 374,80.74C374.17,81.99 374.33,83.24 374.5,84.42C374.67,85.59 374.83,86.74 375,87.82C375.17,88.9 375.33,89.94 375.5,90.91C375.67,91.87 375.83,92.79 376,93.64C376.17,94.49 376.33,95.29 376.5,96.02C376.67,96.75 376.83,97.43 377,98.05C377.17,98.67 377.33,99.25 377.5,99.77C377.67,100.29 377.83,100.77 378,101.2C378.17,101.64 378.33,102.04 378.5,102.4C378.67,102.76 378.83,103.09 379,103.39C379.17,103.69 379.33,103.96 379.5,104.21C379.67,104.46 379.83,104.69 380,104.91C380.17,105.12 380.33,105.32 380.5,105.5C380.6,105.61 380.7,105.72 380.8,105.82" fill="none" stroke="#ab0f30" stroke-width="1.25" stroke-linejoin="round"/>
<line x1="260" y1="56.4" x2="265.5" y2="56.4" stroke="#6aae45" stroke-width="1.4"/>
<text x="268.8" y="58.4" font-size="6.3" font-style="italic" fill="#6aae45" stroke="#6aae45" stroke-width="0.15">cfh<tspan font-size="4.5" dy="-2.3" stroke-width="0.05">W/W</tspan></text>
<line x1="260" y1="65.9" x2="265.5" y2="65.9" stroke="#2b4d85" stroke-width="1.4"/>
<text x="268.8" y="67.9" font-size="6.3" font-style="italic" fill="#2b4d85" stroke="#2b4d85" stroke-width="0.15">cfh<tspan font-size="4.5" dy="-2.3" stroke-width="0.05">W/R</tspan></text>
<line x1="260" y1="77.4" x2="265.5" y2="77.4" stroke="#ab0f30" stroke-width="1.4"/>
<text x="268.8" y="79.4" font-size="6.3" font-style="italic" fill="#ab0f30" stroke="#ab0f30" stroke-width="0.15">cfh<tspan font-size="4.5" dy="-2.3" stroke-width="0.05">R/R</tspan></text>
<path d="M253.8,85.4 L258.45,85.58 L256.7,84.16 L256.87,81.91 Z" fill="#ab0f30"/>
<line x1="256.5" y1="84.24" x2="262.9" y2="81.5" stroke="#ab0f30" stroke-width="1.1"/>
<text x="397.4" y="17.5" font-size="12.3" class="lt" fill="#000" font-weight="bold">D</text>
<line x1="430.5" y1="35.3" x2="430.5" y2="115.9" stroke="#231f20" stroke-width="1"/>
<line x1="428" y1="115.4" x2="512" y2="115.4" stroke="#231f20" stroke-width="1"/>
<line x1="428.2" y1="115.4" x2="430.5" y2="115.4" stroke="#231f20" stroke-width="1"/>
<text x="422.7" y="117.6" font-size="6.3" class="lt" text-anchor="middle" stroke="#231f20" stroke-width="0.04">0</text>
<line x1="428.2" y1="96.13" x2="430.5" y2="96.13" stroke="#231f20" stroke-width="1"/>
<text x="422.7" y="98.33" font-size="6.3" class="lt" text-anchor="middle" stroke="#231f20" stroke-width="0.04">1</text>
<line x1="428.2" y1="76.86" x2="430.5" y2="76.86" stroke="#231f20" stroke-width="1"/>
<text x="422.7" y="79.06" font-size="6.3" class="lt" text-anchor="middle" stroke="#231f20" stroke-width="0.04">2</text>
<line x1="428.2" y1="57.59" x2="430.5" y2="57.59" stroke="#231f20" stroke-width="1"/>
<text x="422.7" y="59.79" font-size="6.3" class="lt" text-anchor="middle" stroke="#231f20" stroke-width="0.04">3</text>
<line x1="428.2" y1="38.32" x2="430.5" y2="38.32" stroke="#231f20" stroke-width="1"/>
<text x="422.7" y="40.52" font-size="6.3" class="lt" text-anchor="middle" stroke="#231f20" stroke-width="0.04">4</text>
<text x="404.3" y="75.6" font-size="7.6" text-anchor="middle" transform="rotate(-90 404.3 75.6)" textLength="68.7" lengthAdjust="spacingAndGlyphs" stroke="#231f20" stroke-width="0.15">Ratio of high/low VWF</text>
<text x="415.1" y="77.6" font-size="7.6" text-anchor="middle" transform="rotate(-90 415.1 77.6)" textLength="28.3" lengthAdjust="spacingAndGlyphs" stroke="#231f20" stroke-width="0.15">mutimers</text>
<rect x="435" y="70.4" width="18.8" height="45" fill="#2b4d85"/>
<rect x="462.3" y="97.7" width="18.7" height="17.7" fill="#ab0f30"/>
<rect x="489.8" y="112" width="18.9" height="3.4" fill="#6aae45"/>
<line x1="444.3" y1="57.2" x2="444.3" y2="70.4" stroke="#2b4d85" stroke-width="1"/>
<line x1="439.6" y1="57.2" x2="449" y2="57.2" stroke="#2b4d85" stroke-width="1"/>
<line x1="471.7" y1="92.5" x2="471.7" y2="97.7" stroke="#ab0f30" stroke-width="1"/>
<line x1="467" y1="92.5" x2="476.4" y2="92.5" stroke="#ab0f30" stroke-width="1"/>
<line x1="499.3" y1="109.9" x2="499.3" y2="112" stroke="#6aae45" stroke-width="1"/>
<line x1="494.6" y1="109.9" x2="504" y2="109.9" stroke="#6aae45" stroke-width="1"/>
<line x1="444.3" y1="115.4" x2="444.3" y2="118.2" stroke="#231f20" stroke-width="1"/>
<text x="444.3" y="126.9" font-size="6.4" text-anchor="middle" font-style="italic" class="lt" stroke="#231f20" stroke-width="0.04">cfh<tspan font-size="4.3" dy="-2.1" stroke-width="0.12">W/W</tspan></text>
<text x="444.3" y="136.3" font-size="6.3" class="lt" text-anchor="middle" stroke="#231f20" stroke-width="0.04">n=4</text>
<line x1="471.3" y1="115.4" x2="471.3" y2="118.2" stroke="#231f20" stroke-width="1"/>
<text x="471.3" y="126.9" font-size="6.4" text-anchor="middle" font-style="italic" class="lt" stroke="#231f20" stroke-width="0.04">cfh<tspan font-size="4.3" dy="-2.1" stroke-width="0.12">W/R</tspan></text>
<text x="471.3" y="136.3" font-size="6.3" class="lt" text-anchor="middle" stroke="#231f20" stroke-width="0.04">n=6</text>
<line x1="498.2" y1="115.4" x2="498.2" y2="118.2" stroke="#231f20" stroke-width="1"/>
<text x="498.2" y="126.9" font-size="6.4" text-anchor="middle" font-style="italic" class="lt" stroke="#231f20" stroke-width="0.04">cfh<tspan font-size="4.3" dy="-2.1" stroke-width="0.12">R/R</tspan></text>
<text x="498.2" y="136.3" font-size="6.3" class="lt" text-anchor="middle" stroke="#231f20" stroke-width="0.04">n=4</text>
<line x1="444.2" y1="45.9" x2="499.2" y2="45.9" stroke="#3a3a3a" stroke-width="1"/>
<line x1="444.2" y1="52.8" x2="471.6" y2="52.8" stroke="#3a3a3a" stroke-width="1"/>
<line x1="472" y1="87.9" x2="499.2" y2="87.9" stroke="#3a3a3a" stroke-width="1"/>
<circle cx="469.4" cy="43.3" r="0.85" fill="#222"/>
<circle cx="471.6" cy="43.3" r="0.85" fill="#222"/>
<circle cx="473.8" cy="43.3" r="0.85" fill="#222"/>
<circle cx="456.6" cy="50.5" r="0.85" fill="#222"/>
<circle cx="458.8" cy="50.5" r="0.85" fill="#222"/>
<circle cx="484.2" cy="84.8" r="0.85" fill="#222"/>
<circle cx="486.4" cy="84.8" r="0.85" fill="#222"/>
<text x="7.5" y="183.2" font-size="12.3" fill="#000" font-weight="bold">E</text>
<text x="42.8" y="194.4" font-size="6.9" font-style="italic" stroke="#231f20" stroke-width="0.15">Adamts13<tspan font-size="4.5" dy="-2.8">-/-</tspan></text>
<line x1="37.3" y1="198.9" x2="76.8" y2="198.9" stroke="#2a2a2a" stroke-width="1.3"/>
<text x="28.0" y="216.6" font-size="6.6" transform="rotate(-45 28.0 216.6)" stroke="#231f20" stroke-width="0.15">wt</text>
<text x="41.4" y="216.6" font-size="6.2" transform="rotate(-45 41.4 216.6)" stroke="#231f20" stroke-width="0.15">cfh<tspan font-size="4" dx="0.5" dy="-3" stroke-width="0.12">W/W</tspan></text>
<text x="55.3" y="216.6" font-size="6.2" transform="rotate(-45 55.3 216.6)" stroke="#231f20" stroke-width="0.15">cfh<tspan font-size="4" dx="0.5" dy="-3" stroke-width="0.12">W/R</tspan></text>
<text x="69.4" y="216.6" font-size="6.2" transform="rotate(-45 69.4 216.6)" stroke="#231f20" stroke-width="0.15">cfh<tspan font-size="4" dx="0.5" dy="-3" stroke-width="0.12">R/R</tspan></text>
<rect x="20.8" y="218.2" width="56.2" height="83.3" fill="url(#gbB)" filter="url(#bl2)"/>
<defs><linearGradient id="g5" x1="0" y1="0" x2="0" y2="1"><stop offset="0.000" stop-color="#eaeaea"/><stop offset="0.006" stop-color="#eaeaea"/><stop offset="0.012" stop-color="#eaeaea"/><stop offset="0.018" stop-color="#eaeaea"/><stop offset="0.024" stop-color="#e9e9e9"/><stop offset="0.030" stop-color="#e9e9e9"/><stop offset="0.036" stop-color="#e8e8e8"/><stop offset="0.042" stop-color="#e7e7e7"/><stop offset="0.048" stop-color="#e7e7e7"/><stop offset="0.054" stop-color="#e6e6e6"/><stop offset="0.060" stop-color="#e5e5e5"/><stop offset="0.066" stop-color="#e4e4e4"/><stop offset="0.072" stop-color="#e2e2e2"/><stop offset="0.078" stop-color="#dfdfdf"/><stop offset="0.084" stop-color="#dbdbdb"/><stop offset="0.090" stop-color="#d5d5d5"/><stop offset="0.096" stop-color="#cdcdcd"/><stop offset="0.102" stop-color="#c4c4c4"/><stop offset="0.108" stop-color="#bbbbbb"/><stop offset="0.114" stop-color="#b1b1b1"/><stop offset="0.120" stop-color="#aaaaaa"/><stop offset="0.126" stop-color="#a6a6a6"/><stop offset="0.132" stop-color="#a7a7a7"/><stop offset="0.138" stop-color="#ababab"/><stop offset="0.144" stop-color="#b1b1b1"/><stop offset="0.150" stop-color="#b8b8b8"/><stop offset="0.156" stop-color="#bebebe"/><stop offset="0.162" stop-color="#c2c2c2"/><stop offset="0.168" stop-color="#c6c6c6"/><stop offset="0.174" stop-color="#c8c8c8"/><stop offset="0.180" stop-color="#cacaca"/><stop offset="0.186" stop-color="#cccccc"/><stop offset="0.192" stop-color="#cdcdcd"/><stop offset="0.198" stop-color="#cecece"/><stop offset="0.204" stop-color="#cecece"/><stop offset="0.210" stop-color="#cecece"/><stop offset="0.216" stop-color="#cdcdcd"/><stop offset="0.222" stop-color="#cbcbcb"/><stop offset="0.228" stop-color="#cbcbcb"/><stop offset="0.234" stop-color="#cccccc"/><stop offset="0.240" stop-color="#cccccc"/><stop offset="0.246" stop-color="#c9c9c9"/><stop offset="0.252" stop-color="#c5c5c5"/><stop offset="0.258" stop-color="#c4c4c4"/><stop offset="0.264" stop-color="#c6c6c6"/><stop offset="0.270" stop-color="#c5c5c5"/><stop offset="0.276" stop-color="#c0c0c0"/><stop offset="0.282" stop-color="#bbbbbb"/><stop offset="0.288" stop-color="#bcbcbc"/><stop offset="0.294" stop-color="#bfbfbf"/><stop offset="0.300" stop-color="#bdbdbd"/><stop offset="0.306" stop-color="#b5b5b5"/><stop offset="0.312" stop-color="#afafaf"/><stop offset="0.318" stop-color="#b3b3b3"/><stop offset="0.324" stop-color="#b8b8b8"/><stop offset="0.330" stop-color="#b4b4b4"/><stop offset="0.336" stop-color="#a9a9a9"/><stop offset="0.342" stop-color="#a4a4a4"/><stop offset="0.348" stop-color="#ababab"/><stop offset="0.354" stop-color="#b0b0b0"/><stop offset="0.360" stop-color="#aaaaaa"/><stop offset="0.366" stop-color="#9d9d9d"/><stop offset="0.372" stop-color="#9b9b9b"/><stop offset="0.378" stop-color="#a8a8a8"/><stop offset="0.384" stop-color="#b1b1b1"/><stop offset="0.390" stop-color="#b2b2b2"/><stop offset="0.396" stop-color="#a9a9a9"/><stop offset="0.402" stop-color="#8d8d8d"/><stop offset="0.408" stop-color="#797979"/><stop offset="0.414" stop-color="#919191"/><stop offset="0.420" stop-color="#aaaaaa"/><stop offset="0.426" stop-color="#999999"/><stop offset="0.432" stop-color="#666666"/><stop offset="0.438" stop-color="#525252"/><stop offset="0.444" stop-color="#7c7c7c"/><stop offset="0.450" stop-color="#a6a6a6"/><stop offset="0.456" stop-color="#a0a0a0"/><stop offset="0.462" stop-color="#6d6d6d"/><stop offset="0.468" stop-color="#4c4c4c"/><stop offset="0.474" stop-color="#6e6e6e"/><stop offset="0.480" stop-color="#a4a4a4"/><stop offset="0.486" stop-color="#bbbbbb"/><stop offset="0.492" stop-color="#b5b5b5"/><stop offset="0.498" stop-color="#909090"/><stop offset="0.504" stop-color="#575757"/><stop offset="0.510" stop-color="#424242"/><stop offset="0.516" stop-color="#6e6e6e"/><stop offset="0.522" stop-color="#a3a3a3"/><stop offset="0.528" stop-color="#b7b7b7"/><stop offset="0.534" stop-color="#a5a5a5"/><stop offset="0.540" stop-color="#757575"/><stop offset="0.546" stop-color="#484848"/><stop offset="0.552" stop-color="#4e4e4e"/><stop offset="0.558" stop-color="#818181"/><stop offset="0.564" stop-color="#aeaeae"/><stop offset="0.570" stop-color="#bcbcbc"/><stop offset="0.576" stop-color="#afafaf"/><stop offset="0.582" stop-color="#888888"/><stop offset="0.588" stop-color="#575757"/><stop offset="0.594" stop-color="#484848"/><stop offset="0.600" stop-color="#6b6b6b"/><stop offset="0.606" stop-color="#9e9e9e"/><stop offset="0.612" stop-color="#bebebe"/><stop offset="0.618" stop-color="#c9c9c9"/><stop offset="0.624" stop-color="#cbcbcb"/><stop offset="0.630" stop-color="#c4c4c4"/><stop offset="0.636" stop-color="#afafaf"/><stop offset="0.642" stop-color="#888888"/><stop offset="0.648" stop-color="#636363"/><stop offset="0.654" stop-color="#5f5f5f"/><stop offset="0.660" stop-color="#818181"/><stop offset="0.666" stop-color="#acacac"/><stop offset="0.672" stop-color="#c6c6c6"/><stop offset="0.678" stop-color="#d0d0d0"/><stop offset="0.684" stop-color="#d3d3d3"/><stop offset="0.690" stop-color="#d4d4d4"/><stop offset="0.696" stop-color="#d5d5d5"/><stop offset="0.702" stop-color="#d6d6d6"/><stop offset="0.708" stop-color="#d6d6d6"/><stop offset="0.714" stop-color="#d5d5d5"/><stop offset="0.720" stop-color="#d1d1d1"/><stop offset="0.726" stop-color="#c3c3c3"/><stop offset="0.732" stop-color="#a7a7a7"/><stop offset="0.738" stop-color="#818181"/><stop offset="0.744" stop-color="#656565"/><stop offset="0.750" stop-color="#696969"/><stop offset="0.756" stop-color="#898989"/><stop offset="0.762" stop-color="#afafaf"/><stop offset="0.768" stop-color="#c9c9c9"/><stop offset="0.774" stop-color="#d4d4d4"/><stop offset="0.780" stop-color="#d8d8d8"/><stop offset="0.786" stop-color="#d9d9d9"/><stop offset="0.792" stop-color="#dadada"/><stop offset="0.798" stop-color="#dadada"/><stop offset="0.804" stop-color="#dadada"/><stop offset="0.810" stop-color="#dadada"/><stop offset="0.816" stop-color="#dadada"/><stop offset="0.822" stop-color="#dbdbdb"/><stop offset="0.828" stop-color="#dbdbdb"/><stop offset="0.834" stop-color="#dbdbdb"/><stop offset="0.840" stop-color="#dbdbdb"/><stop offset="0.846" stop-color="#dbdbdb"/><stop offset="0.852" stop-color="#dadada"/><stop offset="0.858" stop-color="#d8d8d8"/><stop offset="0.864" stop-color="#d4d4d4"/><stop offset="0.870" stop-color="#cecece"/><stop offset="0.876" stop-color="#c7c7c7"/><stop offset="0.882" stop-color="#c2c2c2"/><stop offset="0.888" stop-color="#c1c1c1"/><stop offset="0.894" stop-color="#c5c5c5"/><stop offset="0.900" stop-color="#cbcbcb"/><stop offset="0.906" stop-color="#d2d2d2"/><stop offset="0.912" stop-color="#d8d8d8"/><stop offset="0.918" stop-color="#dcdcdc"/><stop offset="0.924" stop-color="#dddddd"/><stop offset="0.930" stop-color="#dedede"/><stop offset="0.936" stop-color="#dfdfdf"/><stop offset="0.942" stop-color="#dfdfdf"/><stop offset="0.948" stop-color="#dfdfdf"/><stop offset="0.954" stop-color="#e0e0e0"/><stop offset="0.960" stop-color="#e0e0e0"/><stop offset="0.966" stop-color="#e0e0e0"/><stop offset="0.972" stop-color="#e0e0e0"/><stop offset="0.978" stop-color="#e1e1e1"/><stop offset="0.984" stop-color="#e1e1e1"/><stop offset="0.990" stop-color="#e2e2e2"/><stop offset="0.996" stop-color="#e6e6e6"/></linearGradient></defs>
<g filter="url(#bl)"><rect x="22" y="218.2" width="10.8" height="83.3" fill="url(#g5)"/><rect x="22" y="218.2" width="10.8" height="83.3" fill="url(#g5)" mask="url(#edgm)" opacity="0.6" style="mix-blend-mode:multiply"/></g>
<defs><linearGradient id="g6" x1="0" y1="0" x2="0" y2="1"><stop offset="0.000" stop-color="#eaeaea"/><stop offset="0.006" stop-color="#eaeaea"/><stop offset="0.012" stop-color="#eaeaea"/><stop offset="0.018" stop-color="#eaeaea"/><stop offset="0.024" stop-color="#e9e9e9"/><stop offset="0.030" stop-color="#e9e9e9"/><stop offset="0.036" stop-color="#e8e8e8"/><stop offset="0.042" stop-color="#e7e7e7"/><stop offset="0.048" stop-color="#e7e7e7"/><stop offset="0.054" stop-color="#e6e6e6"/><stop offset="0.060" stop-color="#e5e5e5"/><stop offset="0.066" stop-color="#e2e2e2"/><stop offset="0.072" stop-color="#dfdfdf"/><stop offset="0.078" stop-color="#dadada"/><stop offset="0.084" stop-color="#d3d3d3"/><stop offset="0.090" stop-color="#c9c9c9"/><stop offset="0.096" stop-color="#bcbcbc"/><stop offset="0.102" stop-color="#aaaaaa"/><stop offset="0.108" stop-color="#979797"/><stop offset="0.114" stop-color="#848484"/><stop offset="0.120" stop-color="#767676"/><stop offset="0.126" stop-color="#6f6f6f"/><stop offset="0.132" stop-color="#717171"/><stop offset="0.138" stop-color="#7a7a7a"/><stop offset="0.144" stop-color="#888888"/><stop offset="0.150" stop-color="#969696"/><stop offset="0.156" stop-color="#a3a3a3"/><stop offset="0.162" stop-color="#acacac"/><stop offset="0.168" stop-color="#b4b4b4"/><stop offset="0.174" stop-color="#bababa"/><stop offset="0.180" stop-color="#bebebe"/><stop offset="0.186" stop-color="#c2c2c2"/><stop offset="0.192" stop-color="#c5c5c5"/><stop offset="0.198" stop-color="#c8c8c8"/><stop offset="0.204" stop-color="#cacaca"/><stop offset="0.210" stop-color="#cbcbcb"/><stop offset="0.216" stop-color="#cbcbcb"/><stop offset="0.222" stop-color="#cacaca"/><stop offset="0.228" stop-color="#cacaca"/><stop offset="0.234" stop-color="#cbcbcb"/><stop offset="0.240" stop-color="#cbcbcb"/><stop offset="0.246" stop-color="#c9c9c9"/><stop offset="0.252" stop-color="#c5c5c5"/><stop offset="0.258" stop-color="#c5c5c5"/><stop offset="0.264" stop-color="#c6c6c6"/><stop offset="0.270" stop-color="#c5c5c5"/><stop offset="0.276" stop-color="#c1c1c1"/><stop offset="0.282" stop-color="#bcbcbc"/><stop offset="0.288" stop-color="#bcbcbc"/><stop offset="0.294" stop-color="#bfbfbf"/><stop offset="0.300" stop-color="#bebebe"/><stop offset="0.306" stop-color="#b7b7b7"/><stop offset="0.312" stop-color="#b1b1b1"/><stop offset="0.318" stop-color="#b4b4b4"/><stop offset="0.324" stop-color="#b9b9b9"/><stop offset="0.330" stop-color="#b6b6b6"/><stop offset="0.336" stop-color="#ababab"/><stop offset="0.342" stop-color="#a5a5a5"/><stop offset="0.348" stop-color="#adadad"/><stop offset="0.354" stop-color="#b2b2b2"/><stop offset="0.360" stop-color="#acacac"/><stop offset="0.366" stop-color="#9e9e9e"/><stop offset="0.372" stop-color="#9c9c9c"/><stop offset="0.378" stop-color="#a9a9a9"/><stop offset="0.384" stop-color="#b2b2b2"/><stop offset="0.390" stop-color="#b2b2b2"/><stop offset="0.396" stop-color="#a9a9a9"/><stop offset="0.402" stop-color="#8e8e8e"/><stop offset="0.408" stop-color="#7b7b7b"/><stop offset="0.414" stop-color="#929292"/><stop offset="0.420" stop-color="#ababab"/><stop offset="0.426" stop-color="#9a9a9a"/><stop offset="0.432" stop-color="#6a6a6a"/><stop offset="0.438" stop-color="#565656"/><stop offset="0.444" stop-color="#7e7e7e"/><stop offset="0.450" stop-color="#a7a7a7"/><stop offset="0.456" stop-color="#a1a1a1"/><stop offset="0.462" stop-color="#717171"/><stop offset="0.468" stop-color="#505050"/><stop offset="0.474" stop-color="#717171"/><stop offset="0.480" stop-color="#a5a5a5"/><stop offset="0.486" stop-color="#bbbbbb"/><stop offset="0.492" stop-color="#b5b5b5"/><stop offset="0.498" stop-color="#929292"/><stop offset="0.504" stop-color="#5b5b5b"/><stop offset="0.510" stop-color="#474747"/><stop offset="0.516" stop-color="#717171"/><stop offset="0.522" stop-color="#a5a5a5"/><stop offset="0.528" stop-color="#b7b7b7"/><stop offset="0.534" stop-color="#a7a7a7"/><stop offset="0.540" stop-color="#787878"/><stop offset="0.546" stop-color="#4d4d4d"/><stop offset="0.552" stop-color="#535353"/><stop offset="0.558" stop-color="#848484"/><stop offset="0.564" stop-color="#aeaeae"/><stop offset="0.570" stop-color="#bcbcbc"/><stop offset="0.576" stop-color="#b0b0b0"/><stop offset="0.582" stop-color="#8a8a8a"/><stop offset="0.588" stop-color="#5b5b5b"/><stop offset="0.594" stop-color="#4d4d4d"/><stop offset="0.600" stop-color="#6f6f6f"/><stop offset="0.606" stop-color="#a0a0a0"/><stop offset="0.612" stop-color="#bebebe"/><stop offset="0.618" stop-color="#c9c9c9"/><stop offset="0.624" stop-color="#cbcbcb"/><stop offset="0.630" stop-color="#c5c5c5"/><stop offset="0.636" stop-color="#b0b0b0"/><stop offset="0.642" stop-color="#8b8b8b"/><stop offset="0.648" stop-color="#676767"/><stop offset="0.654" stop-color="#636363"/><stop offset="0.660" stop-color="#848484"/><stop offset="0.666" stop-color="#adadad"/><stop offset="0.672" stop-color="#c7c7c7"/><stop offset="0.678" stop-color="#d0d0d0"/><stop offset="0.684" stop-color="#d3d3d3"/><stop offset="0.690" stop-color="#d4d4d4"/><stop offset="0.696" stop-color="#d5d5d5"/><stop offset="0.702" stop-color="#d6d6d6"/><stop offset="0.708" stop-color="#d6d6d6"/><stop offset="0.714" stop-color="#d5d5d5"/><stop offset="0.720" stop-color="#d1d1d1"/><stop offset="0.726" stop-color="#c4c4c4"/><stop offset="0.732" stop-color="#a9a9a9"/><stop offset="0.738" stop-color="#848484"/><stop offset="0.744" stop-color="#6a6a6a"/><stop offset="0.750" stop-color="#6d6d6d"/><stop offset="0.756" stop-color="#8c8c8c"/><stop offset="0.762" stop-color="#b1b1b1"/><stop offset="0.768" stop-color="#c9c9c9"/><stop offset="0.774" stop-color="#d5d5d5"/><stop offset="0.780" stop-color="#d8d8d8"/><stop offset="0.786" stop-color="#d9d9d9"/><stop offset="0.792" stop-color="#dadada"/><stop offset="0.798" stop-color="#dadada"/><stop offset="0.804" stop-color="#dadada"/><stop offset="0.810" stop-color="#dadada"/><stop offset="0.816" stop-color="#dadada"/><stop offset="0.822" stop-color="#dbdbdb"/><stop offset="0.828" stop-color="#dbdbdb"/><stop offset="0.834" stop-color="#dbdbdb"/><stop offset="0.840" stop-color="#dbdbdb"/><stop offset="0.846" stop-color="#dbdbdb"/><stop offset="0.852" stop-color="#dadada"/><stop offset="0.858" stop-color="#d8d8d8"/><stop offset="0.864" stop-color="#d4d4d4"/><stop offset="0.870" stop-color="#cecece"/><stop offset="0.876" stop-color="#c7c7c7"/><stop offset="0.882" stop-color="#c2c2c2"/><stop offset="0.888" stop-color="#c1c1c1"/><stop offset="0.894" stop-color="#c5c5c5"/><stop offset="0.900" stop-color="#cbcbcb"/><stop offset="0.906" stop-color="#d2d2d2"/><stop offset="0.912" stop-color="#d8d8d8"/><stop offset="0.918" stop-color="#dcdcdc"/><stop offset="0.924" stop-color="#dddddd"/><stop offset="0.930" stop-color="#dedede"/><stop offset="0.936" stop-color="#dfdfdf"/><stop offset="0.942" stop-color="#dfdfdf"/><stop offset="0.948" stop-color="#dfdfdf"/><stop offset="0.954" stop-color="#e0e0e0"/><stop offset="0.960" stop-color="#e0e0e0"/><stop offset="0.966" stop-color="#e0e0e0"/><stop offset="0.972" stop-color="#e0e0e0"/><stop offset="0.978" stop-color="#e1e1e1"/><stop offset="0.984" stop-color="#e1e1e1"/><stop offset="0.990" stop-color="#e2e2e2"/><stop offset="0.996" stop-color="#e6e6e6"/></linearGradient></defs>
<g filter="url(#bl)"><rect x="36" y="218.2" width="11.4" height="83.3" fill="url(#g6)"/><rect x="36" y="218.2" width="11.4" height="83.3" fill="url(#g6)" mask="url(#edgm)" opacity="0.8" style="mix-blend-mode:multiply"/></g>
<defs><linearGradient id="g7" x1="0" y1="0" x2="0" y2="1"><stop offset="0.000" stop-color="#eaeaea"/><stop offset="0.006" stop-color="#eaeaea"/><stop offset="0.012" stop-color="#eaeaea"/><stop offset="0.018" stop-color="#eaeaea"/><stop offset="0.024" stop-color="#e9e9e9"/><stop offset="0.030" stop-color="#e9e9e9"/><stop offset="0.036" stop-color="#e8e8e8"/><stop offset="0.042" stop-color="#e7e7e7"/><stop offset="0.048" stop-color="#e7e7e7"/><stop offset="0.054" stop-color="#e6e6e6"/><stop offset="0.060" stop-color="#e4e4e4"/><stop offset="0.066" stop-color="#e0e0e0"/><stop offset="0.072" stop-color="#dbdbdb"/><stop offset="0.078" stop-color="#d6d6d6"/><stop offset="0.084" stop-color="#cfcfcf"/><stop offset="0.090" stop-color="#c6c6c6"/><stop offset="0.096" stop-color="#bcbcbc"/><stop offset="0.102" stop-color="#b1b1b1"/><stop offset="0.108" stop-color="#a5a5a5"/><stop offset="0.114" stop-color="#9b9b9b"/><stop offset="0.120" stop-color="#929292"/><stop offset="0.126" stop-color="#8d8d8d"/><stop offset="0.132" stop-color="#8d8d8d"/><stop offset="0.138" stop-color="#909090"/><stop offset="0.144" stop-color="#969696"/><stop offset="0.150" stop-color="#9e9e9e"/><stop offset="0.156" stop-color="#a5a5a5"/><stop offset="0.162" stop-color="#aaaaaa"/><stop offset="0.168" stop-color="#afafaf"/><stop offset="0.174" stop-color="#b3b3b3"/><stop offset="0.180" stop-color="#b6b6b6"/><stop offset="0.186" stop-color="#b8b8b8"/><stop offset="0.192" stop-color="#bababa"/><stop offset="0.198" stop-color="#bbbbbb"/><stop offset="0.204" stop-color="#bbbbbb"/><stop offset="0.210" stop-color="#bbbbbb"/><stop offset="0.216" stop-color="#bababa"/><stop offset="0.222" stop-color="#b8b8b8"/><stop offset="0.228" stop-color="#b7b7b7"/><stop offset="0.234" stop-color="#b8b8b8"/><stop offset="0.240" stop-color="#b7b7b7"/><stop offset="0.246" stop-color="#b4b4b4"/><stop offset="0.252" stop-color="#b0b0b0"/><stop offset="0.258" stop-color="#afafaf"/><stop offset="0.264" stop-color="#b1b1b1"/><stop offset="0.270" stop-color="#b0b0b0"/><stop offset="0.276" stop-color="#aaaaaa"/><stop offset="0.282" stop-color="#a4a4a4"/><stop offset="0.288" stop-color="#a5a5a5"/><stop offset="0.294" stop-color="#aaaaaa"/><stop offset="0.300" stop-color="#a8a8a8"/><stop offset="0.306" stop-color="#9e9e9e"/><stop offset="0.312" stop-color="#969696"/><stop offset="0.318" stop-color="#9b9b9b"/><stop offset="0.324" stop-color="#a2a2a2"/><stop offset="0.330" stop-color="#9e9e9e"/><stop offset="0.336" stop-color="#8f8f8f"/><stop offset="0.342" stop-color="#878787"/><stop offset="0.348" stop-color="#929292"/><stop offset="0.354" stop-color="#9b9b9b"/><stop offset="0.360" stop-color="#939393"/><stop offset="0.366" stop-color="#818181"/><stop offset="0.372" stop-color="#808080"/><stop offset="0.378" stop-color="#949494"/><stop offset="0.384" stop-color="#a4a4a4"/><stop offset="0.390" stop-color="#a7a7a7"/><stop offset="0.396" stop-color="#9d9d9d"/><stop offset="0.402" stop-color="#7c7c7c"/><stop offset="0.408" stop-color="#656565"/><stop offset="0.414" stop-color="#808080"/><stop offset="0.420" stop-color="#9d9d9d"/><stop offset="0.426" stop-color="#898989"/><stop offset="0.432" stop-color="#4f4f4f"/><stop offset="0.438" stop-color="#373737"/><stop offset="0.444" stop-color="#676767"/><stop offset="0.450" stop-color="#989898"/><stop offset="0.456" stop-color="#919191"/><stop offset="0.462" stop-color="#575757"/><stop offset="0.468" stop-color="#303030"/><stop offset="0.474" stop-color="#575757"/><stop offset="0.480" stop-color="#959595"/><stop offset="0.486" stop-color="#afafaf"/><stop offset="0.492" stop-color="#a9a9a9"/><stop offset="0.498" stop-color="#7f7f7f"/><stop offset="0.504" stop-color="#3c3c3c"/><stop offset="0.510" stop-color="#242424"/><stop offset="0.516" stop-color="#575757"/><stop offset="0.522" stop-color="#949494"/><stop offset="0.528" stop-color="#ababab"/><stop offset="0.534" stop-color="#979797"/><stop offset="0.540" stop-color="#5f5f5f"/><stop offset="0.546" stop-color="#2b2b2b"/><stop offset="0.552" stop-color="#323232"/><stop offset="0.558" stop-color="#6d6d6d"/><stop offset="0.564" stop-color="#a0a0a0"/><stop offset="0.570" stop-color="#b0b0b0"/><stop offset="0.576" stop-color="#a2a2a2"/><stop offset="0.582" stop-color="#757575"/><stop offset="0.588" stop-color="#3d3d3d"/><stop offset="0.594" stop-color="#2b2b2b"/><stop offset="0.600" stop-color="#545454"/><stop offset="0.606" stop-color="#8f8f8f"/><stop offset="0.612" stop-color="#b4b4b4"/><stop offset="0.618" stop-color="#c2c2c2"/><stop offset="0.624" stop-color="#c4c4c4"/><stop offset="0.630" stop-color="#bdbdbd"/><stop offset="0.636" stop-color="#a4a4a4"/><stop offset="0.642" stop-color="#777777"/><stop offset="0.648" stop-color="#4c4c4c"/><stop offset="0.654" stop-color="#484848"/><stop offset="0.660" stop-color="#707070"/><stop offset="0.666" stop-color="#a1a1a1"/><stop offset="0.672" stop-color="#c0c0c0"/><stop offset="0.678" stop-color="#cccccc"/><stop offset="0.684" stop-color="#cfcfcf"/><stop offset="0.690" stop-color="#d1d1d1"/><stop offset="0.696" stop-color="#d2d2d2"/><stop offset="0.702" stop-color="#d2d2d2"/><stop offset="0.708" stop-color="#d3d3d3"/><stop offset="0.714" stop-color="#d2d2d2"/><stop offset="0.720" stop-color="#cdcdcd"/><stop offset="0.726" stop-color="#bebebe"/><stop offset="0.732" stop-color="#9d9d9d"/><stop offset="0.738" stop-color="#727272"/><stop offset="0.744" stop-color="#525252"/><stop offset="0.750" stop-color="#575757"/><stop offset="0.756" stop-color="#7c7c7c"/><stop offset="0.762" stop-color="#a8a8a8"/><stop offset="0.768" stop-color="#c5c5c5"/><stop offset="0.774" stop-color="#d3d3d3"/><stop offset="0.780" stop-color="#d7d7d7"/><stop offset="0.786" stop-color="#d9d9d9"/><stop offset="0.792" stop-color="#d9d9d9"/><stop offset="0.798" stop-color="#dadada"/><stop offset="0.804" stop-color="#dadada"/><stop offset="0.810" stop-color="#dadada"/><stop offset="0.816" stop-color="#dadada"/><stop offset="0.822" stop-color="#dbdbdb"/><stop offset="0.828" stop-color="#dbdbdb"/><stop offset="0.834" stop-color="#dbdbdb"/><stop offset="0.840" stop-color="#dbdbdb"/><stop offset="0.846" stop-color="#dbdbdb"/><stop offset="0.852" stop-color="#dadada"/><stop offset="0.858" stop-color="#d8d8d8"/><stop offset="0.864" stop-color="#d4d4d4"/><stop offset="0.870" stop-color="#cecece"/><stop offset="0.876" stop-color="#c7c7c7"/><stop offset="0.882" stop-color="#c2c2c2"/><stop offset="0.888" stop-color="#c1c1c1"/><stop offset="0.894" stop-color="#c5c5c5"/><stop offset="0.900" stop-color="#cbcbcb"/><stop offset="0.906" stop-color="#d2d2d2"/><stop offset="0.912" stop-color="#d8d8d8"/><stop offset="0.918" stop-color="#dcdcdc"/><stop offset="0.924" stop-color="#dddddd"/><stop offset="0.930" stop-color="#dedede"/><stop offset="0.936" stop-color="#dfdfdf"/><stop offset="0.942" stop-color="#dfdfdf"/><stop offset="0.948" stop-color="#dfdfdf"/><stop offset="0.954" stop-color="#e0e0e0"/><stop offset="0.960" stop-color="#e0e0e0"/><stop offset="0.966" stop-color="#e0e0e0"/><stop offset="0.972" stop-color="#e0e0e0"/><stop offset="0.978" stop-color="#e1e1e1"/><stop offset="0.984" stop-color="#e1e1e1"/><stop offset="0.990" stop-color="#e2e2e2"/><stop offset="0.996" stop-color="#e6e6e6"/></linearGradient></defs>
<g filter="url(#bl)"><rect x="50.6" y="218.2" width="11.2" height="83.3" fill="url(#g7)"/><rect x="50.6" y="218.2" width="11.2" height="83.3" fill="url(#g7)" mask="url(#edgm)" opacity="0.9" style="mix-blend-mode:multiply"/></g>
<defs><linearGradient id="g8" x1="0" y1="0" x2="0" y2="1"><stop offset="0.000" stop-color="#eaeaea"/><stop offset="0.006" stop-color="#eaeaea"/><stop offset="0.012" stop-color="#eaeaea"/><stop offset="0.018" stop-color="#eaeaea"/><stop offset="0.024" stop-color="#e9e9e9"/><stop offset="0.030" stop-color="#e9e9e9"/><stop offset="0.036" stop-color="#e8e8e8"/><stop offset="0.042" stop-color="#e7e7e7"/><stop offset="0.048" stop-color="#e6e6e6"/><stop offset="0.054" stop-color="#e5e5e5"/><stop offset="0.060" stop-color="#dadada"/><stop offset="0.066" stop-color="#c1c1c1"/><stop offset="0.072" stop-color="#a6a6a6"/><stop offset="0.078" stop-color="#888888"/><stop offset="0.084" stop-color="#666666"/><stop offset="0.090" stop-color="#484848"/><stop offset="0.096" stop-color="#323232"/><stop offset="0.102" stop-color="#191919"/><stop offset="0.108" stop-color="#010101"/><stop offset="0.114" stop-color="#000000"/><stop offset="0.120" stop-color="#000000"/><stop offset="0.126" stop-color="#000000"/><stop offset="0.132" stop-color="#000000"/><stop offset="0.138" stop-color="#000000"/><stop offset="0.144" stop-color="#000000"/><stop offset="0.150" stop-color="#000000"/><stop offset="0.156" stop-color="#000000"/><stop offset="0.162" stop-color="#0d0d0d"/><stop offset="0.168" stop-color="#1e1e1e"/><stop offset="0.174" stop-color="#2d2d2d"/><stop offset="0.180" stop-color="#393939"/><stop offset="0.186" stop-color="#444444"/><stop offset="0.192" stop-color="#4c4c4c"/><stop offset="0.198" stop-color="#535353"/><stop offset="0.204" stop-color="#585858"/><stop offset="0.210" stop-color="#5b5b5b"/><stop offset="0.216" stop-color="#5d5d5d"/><stop offset="0.222" stop-color="#5e5e5e"/><stop offset="0.228" stop-color="#5f5f5f"/><stop offset="0.234" stop-color="#616161"/><stop offset="0.240" stop-color="#636363"/><stop offset="0.246" stop-color="#616161"/><stop offset="0.252" stop-color="#5e5e5e"/><stop offset="0.258" stop-color="#5e5e5e"/><stop offset="0.264" stop-color="#626262"/><stop offset="0.270" stop-color="#626262"/><stop offset="0.276" stop-color="#5d5d5d"/><stop offset="0.282" stop-color="#575757"/><stop offset="0.288" stop-color="#5a5a5a"/><stop offset="0.294" stop-color="#606060"/><stop offset="0.300" stop-color="#5f5f5f"/><stop offset="0.306" stop-color="#565656"/><stop offset="0.312" stop-color="#4f4f4f"/><stop offset="0.318" stop-color="#565656"/><stop offset="0.324" stop-color="#5f5f5f"/><stop offset="0.330" stop-color="#5b5b5b"/><stop offset="0.336" stop-color="#4c4c4c"/><stop offset="0.342" stop-color="#454545"/><stop offset="0.348" stop-color="#525252"/><stop offset="0.354" stop-color="#5d5d5d"/><stop offset="0.360" stop-color="#585858"/><stop offset="0.366" stop-color="#4b4b4b"/><stop offset="0.372" stop-color="#505050"/><stop offset="0.378" stop-color="#6d6d6d"/><stop offset="0.384" stop-color="#858585"/><stop offset="0.390" stop-color="#8e8e8e"/><stop offset="0.396" stop-color="#868686"/><stop offset="0.402" stop-color="#5e5e5e"/><stop offset="0.408" stop-color="#424242"/><stop offset="0.414" stop-color="#626262"/><stop offset="0.420" stop-color="#858585"/><stop offset="0.426" stop-color="#6d6d6d"/><stop offset="0.432" stop-color="#262626"/><stop offset="0.438" stop-color="#0a0a0a"/><stop offset="0.444" stop-color="#444444"/><stop offset="0.450" stop-color="#7e7e7e"/><stop offset="0.456" stop-color="#757575"/><stop offset="0.462" stop-color="#2f2f2f"/><stop offset="0.468" stop-color="#010101"/><stop offset="0.474" stop-color="#303030"/><stop offset="0.480" stop-color="#7b7b7b"/><stop offset="0.486" stop-color="#9a9a9a"/><stop offset="0.492" stop-color="#919191"/><stop offset="0.498" stop-color="#5f5f5f"/><stop offset="0.504" stop-color="#0f0f0f"/><stop offset="0.510" stop-color="#000000"/><stop offset="0.516" stop-color="#2f2f2f"/><stop offset="0.522" stop-color="#797979"/><stop offset="0.528" stop-color="#949494"/><stop offset="0.534" stop-color="#7c7c7c"/><stop offset="0.540" stop-color="#393939"/><stop offset="0.546" stop-color="#000000"/><stop offset="0.552" stop-color="#030303"/><stop offset="0.558" stop-color="#494949"/><stop offset="0.564" stop-color="#868686"/><stop offset="0.570" stop-color="#9a9a9a"/><stop offset="0.576" stop-color="#888888"/><stop offset="0.582" stop-color="#535353"/><stop offset="0.588" stop-color="#111111"/><stop offset="0.594" stop-color="#000000"/><stop offset="0.600" stop-color="#2e2e2e"/><stop offset="0.606" stop-color="#757575"/><stop offset="0.612" stop-color="#a2a2a2"/><stop offset="0.618" stop-color="#b3b3b3"/><stop offset="0.624" stop-color="#b6b6b6"/><stop offset="0.630" stop-color="#aeaeae"/><stop offset="0.636" stop-color="#919191"/><stop offset="0.642" stop-color="#5c5c5c"/><stop offset="0.648" stop-color="#282828"/><stop offset="0.654" stop-color="#242424"/><stop offset="0.660" stop-color="#545454"/><stop offset="0.666" stop-color="#8f8f8f"/><stop offset="0.672" stop-color="#b4b4b4"/><stop offset="0.678" stop-color="#c3c3c3"/><stop offset="0.684" stop-color="#c7c7c7"/><stop offset="0.690" stop-color="#c9c9c9"/><stop offset="0.696" stop-color="#cbcbcb"/><stop offset="0.702" stop-color="#cccccc"/><stop offset="0.708" stop-color="#cdcdcd"/><stop offset="0.714" stop-color="#cccccc"/><stop offset="0.720" stop-color="#c7c7c7"/><stop offset="0.726" stop-color="#b5b5b5"/><stop offset="0.732" stop-color="#8e8e8e"/><stop offset="0.738" stop-color="#5a5a5a"/><stop offset="0.744" stop-color="#343434"/><stop offset="0.750" stop-color="#3a3a3a"/><stop offset="0.756" stop-color="#676767"/><stop offset="0.762" stop-color="#9c9c9c"/><stop offset="0.768" stop-color="#c0c0c0"/><stop offset="0.774" stop-color="#d0d0d0"/><stop offset="0.780" stop-color="#d6d6d6"/><stop offset="0.786" stop-color="#d8d8d8"/><stop offset="0.792" stop-color="#d9d9d9"/><stop offset="0.798" stop-color="#dadada"/><stop offset="0.804" stop-color="#dadada"/><stop offset="0.810" stop-color="#dadada"/><stop offset="0.816" stop-color="#dadada"/><stop offset="0.822" stop-color="#dbdbdb"/><stop offset="0.828" stop-color="#dbdbdb"/><stop offset="0.834" stop-color="#dbdbdb"/><stop offset="0.840" stop-color="#dbdbdb"/><stop offset="0.846" stop-color="#dbdbdb"/><stop offset="0.852" stop-color="#dadada"/><stop offset="0.858" stop-color="#d8d8d8"/><stop offset="0.864" stop-color="#d4d4d4"/><stop offset="0.870" stop-color="#cecece"/><stop offset="0.876" stop-color="#c7c7c7"/><stop offset="0.882" stop-color="#c2c2c2"/><stop offset="0.888" stop-color="#c1c1c1"/><stop offset="0.894" stop-color="#c5c5c5"/><stop offset="0.900" stop-color="#cbcbcb"/><stop offset="0.906" stop-color="#d2d2d2"/><stop offset="0.912" stop-color="#d8d8d8"/><stop offset="0.918" stop-color="#dcdcdc"/><stop offset="0.924" stop-color="#dddddd"/><stop offset="0.930" stop-color="#dedede"/><stop offset="0.936" stop-color="#dfdfdf"/><stop offset="0.942" stop-color="#dfdfdf"/><stop offset="0.948" stop-color="#dfdfdf"/><stop offset="0.954" stop-color="#e0e0e0"/><stop offset="0.960" stop-color="#e0e0e0"/><stop offset="0.966" stop-color="#e0e0e0"/><stop offset="0.972" stop-color="#e0e0e0"/><stop offset="0.978" stop-color="#e1e1e1"/><stop offset="0.984" stop-color="#e1e1e1"/><stop offset="0.990" stop-color="#e2e2e2"/><stop offset="0.996" stop-color="#e6e6e6"/></linearGradient></defs>
<g filter="url(#bl)"><rect x="65.4" y="218.2" width="10.9" height="83.3" fill="url(#g8)"/><rect x="65.4" y="218.2" width="10.9" height="83.3" fill="url(#g8)" mask="url(#edgm)" opacity="1.0" style="mix-blend-mode:multiply"/></g>
<path d="M20.7,225.6 L18.5,225.6 L18.5,246.4 L20.7,246.4" fill="none" stroke="#333" stroke-width="0.9"/>
<path d="M20.7,270.9 L18.5,270.9 L18.5,291.5 L20.7,291.5" fill="none" stroke="#333" stroke-width="0.9"/>
<text x="13.3" y="234.9" font-size="6.3" text-anchor="middle" transform="rotate(-90 13.3 234.9)" textLength="14.7" lengthAdjust="spacingAndGlyphs" stroke="#231f20" stroke-width="0.15">High</text>
<text x="13.1" y="281.3" font-size="6.3" text-anchor="middle" transform="rotate(-90 13.1 281.3)" textLength="12" lengthAdjust="spacingAndGlyphs" stroke="#231f20" stroke-width="0.15">Low</text>
<path d="M77.8,227.2 L82.6,225.1 L81.16,227.2 L82.6,229.3 Z" fill="#b0002a"/>
<line x1="80.68" y1="227.2" x2="84.3" y2="227.2" stroke="#b0002a" stroke-width="1"/>
<text x="99.1" y="183.7" font-size="12.3" fill="#000" font-weight="bold">F</text>
<line x1="126.8" y1="200.9" x2="131.8" y2="200.9" stroke="#6aae45" stroke-width="1.4"/>
<text x="135.2" y="203.2" font-size="6.7" font-style="italic" fill="#6aae45" stroke="#6aae45" stroke-width="0.15">wt</text>
<line x1="126.8" y1="208.7" x2="131.8" y2="208.7" stroke="#2b4d85" stroke-width="1.4"/>
<text x="135.2" y="211" font-size="6.7" font-style="italic" fill="#2b4d85" stroke="#2b4d85" stroke-width="0.15">a13<tspan font-size="4.3" dy="-2.4" stroke-width="0.1">-/-</tspan></text>
<line x1="126.8" y1="216.4" x2="131.8" y2="216.4" stroke="#ab0f30" stroke-width="1.4"/>
<text x="135.2" y="218.7" font-size="6.7" font-style="italic" fill="#ab0f30" stroke="#ab0f30" stroke-width="0.15">a13cfh<tspan font-size="4.3" dy="-2.4" stroke-width="0.1">W/R</tspan></text>
<line x1="126.8" y1="223.5" x2="131.8" y2="223.5" stroke="#56266e" stroke-width="1.4"/>
<text x="135.2" y="225.8" font-size="6.7" font-style="italic" fill="#56266e" stroke="#56266e" stroke-width="0.15">a13<tspan font-size="4.3" dy="-2.4" stroke-width="0.1">-/-</tspan><tspan dy="2.4">cfh</tspan><tspan font-size="4.3" dy="-2.4" stroke-width="0.1">R/R</tspan></text>
<path d="M118.9,231 L123.55,231.22 L121.8,229.78 L122,227.53 Z" fill="#ab0f30"/>
<line x1="121.61" y1="229.86" x2="127" y2="227.6" stroke="#ab0f30" stroke-width="1.1"/>
<path d="M98.5,287.4C99.57,283.43 100.63,279.29 101.7,275.5C103.1,270.53 104.5,266.63 105.9,261.3C106.93,257.37 107.97,250.56 109,248C110.33,244.69 111.67,241.2 113,241.2C114.5,241.2 116,247.96 117.5,252C118.83,255.59 120.17,261.33 121.5,264.2C122.93,267.28 124.37,269.81 125.8,271.3C127.7,273.27 129.6,274.6 131.5,275.5C132.9,276.16 134.3,276.86 135.7,277C136.8,277.11 137.9,277.2 139,277.2C139.9,277.2 140.8,277.11 141.7,277C142.5,276.9 143.3,276.43 144.1,276C145.07,275.48 146.03,274.17 147,273.8C148.07,273.4 149.13,273.34 150.2,273C151.3,272.65 152.4,272.17 153.5,271.6C154.57,271.05 155.63,270.36 156.7,269.5C157.77,268.64 158.83,267.4 159.9,266.2C160.63,265.37 161.37,264.7 162.1,263.5C163.13,261.81 164.17,255.5 165.2,255.5C165.97,255.5 166.73,257.5 167.5,257.5C168.6,257.5 169.7,240.3 170.8,240.3C171.63,240.3 172.47,242.6 173.3,242.6C174.07,242.6 174.83,223.5 175.6,223.5C176.6,223.5 177.6,241 178.6,241C179.6,241 180.6,227.3 181.6,227.3C182.8,227.3 184,245.5 185.2,245.5C186.2,245.5 187.2,225.2 188.2,225.2C189.5,225.2 190.8,245.2 192.1,245.2C193.33,245.2 194.57,218.8 195.8,218.8C197.53,218.8 199.27,259.5 201,259.5C202.83,259.5 204.67,224.4 206.5,224.4C208.57,224.4 210.63,271.56 212.7,271.56C212.87,271.56 213.03,270.69 213.2,270.16C213.37,269.62 213.53,268.98 213.7,268.27C213.87,267.55 214.03,266.71 214.2,265.8C214.37,264.89 214.53,263.84 214.7,262.73C214.87,261.61 215.03,260.36 215.2,259.07C215.37,257.78 215.53,256.37 215.7,254.97C215.87,253.57 216.03,252.07 216.2,250.65C216.37,249.22 216.53,247.74 216.7,246.42C216.87,245.09 217.03,243.75 217.2,242.66C217.37,241.56 217.53,240.47 217.7,239.75C217.87,239.02 218.03,238.2 218.2,238.02C218.37,237.84 218.53,237.7 218.7,237.7C218.87,237.7 219.03,238.33 219.2,238.87C219.37,239.4 219.53,240.42 219.7,241.44C219.87,242.46 220.03,243.81 220.2,245.18C220.37,246.55 220.53,248.16 220.7,249.76C220.87,251.35 221.03,253.09 221.2,254.78C221.37,256.46 221.53,258.21 221.7,259.86C221.87,261.51 222.03,263.16 222.2,264.68C222.37,266.2 222.53,267.68 222.7,269.01C222.87,270.34 223.03,271.6 223.2,272.71C223.37,273.82 223.53,274.85 223.7,275.74C223.87,276.63 224.03,277.43 224.2,278.12C224.37,278.8 224.53,279.41 224.7,279.92C224.87,280.43 225.03,280.88 225.2,281.24C225.37,281.6 225.53,281.92 225.7,282.17C225.87,282.41 226.03,282.63 226.2,282.78C226.37,282.93 226.53,283.07 226.7,283.13C226.87,283.19 227.03,283.25 227.2,283.25C227.37,283.25 227.53,283.2 227.7,283.15C227.87,283.1 228.03,282.97 228.2,282.83C228.37,282.7 228.53,282.51 228.7,282.3C228.87,282.1 229.03,281.84 229.2,281.56C229.37,281.27 229.53,280.93 229.7,280.57C229.87,280.2 230.03,279.78 230.2,279.33C230.37,278.87 230.53,278.36 230.7,277.82C230.87,277.27 231.03,276.67 231.2,276.04C231.37,275.41 231.53,274.73 231.7,274.02C231.87,273.31 232.03,272.55 232.2,271.78C232.37,271.01 232.53,270.19 232.7,269.37C232.87,268.55 233.03,267.7 233.2,266.86C233.37,266.02 233.53,265.16 233.7,264.34C233.87,263.51 234.03,262.67 234.2,261.89C234.37,261.11 234.53,260.34 234.7,259.63C234.87,258.93 235.03,258.25 235.2,257.67C235.37,257.09 235.53,256.53 235.7,256.09C235.87,255.66 236.03,255.24 236.2,254.99C236.37,254.75 236.53,254.43 236.7,254.43C236.87,254.43 237.03,254.44 237.2,254.45C237.37,254.46 237.53,254.79 237.7,255.05C237.87,255.32 238.03,255.76 238.2,256.22C238.37,256.68 238.53,257.28 238.7,257.9C238.87,258.53 239.03,259.27 239.2,260.03C239.37,260.8 239.53,261.65 239.7,262.51C239.87,263.38 240.03,264.31 240.2,265.24C240.37,266.18 240.53,267.15 240.7,268.12C240.87,269.08 241.03,270.07 241.2,271.04C241.37,272 241.53,272.97 241.7,273.9C241.87,274.84 242.03,275.76 242.2,276.64C242.37,277.52 242.53,278.38 242.7,279.19C242.87,280 243.03,280.78 243.2,281.51C243.37,282.23 243.53,282.93 243.7,283.57C243.87,284.21 244.03,284.81 244.2,285.36C244.37,285.92 244.53,286.43 244.7,286.9C244.87,287.37 245.03,287.8 245.2,288.19C245.37,288.58 245.53,288.94 245.7,289.26C245.87,289.58 246.03,289.88 246.2,290.14C246.37,290.4 246.53,290.64 246.7,290.85C246.87,291.06 247.03,291.26 247.2,291.43C247.37,291.6 247.53,291.75 247.7,291.89C247.87,292.03 248.03,292.16 248.2,292.27C248.37,292.38 248.53,292.48 248.7,292.58C248.87,292.67 249.03,292.76 249.2,292.84C249.37,292.91 249.53,292.99 249.7,293.05C249.87,293.12 250.03,293.18 250.2,293.24C250.37,293.3 250.53,293.35 250.7,293.41C250.87,293.46 251.03,293.51 251.2,293.55C251.37,293.6 251.53,293.64 251.7,293.68C251.87,293.72 252.03,293.76 252.2,293.79C252.37,293.83 252.53,293.86 252.7,293.89C252.87,293.91 253.03,293.94 253.2,293.96C253.37,293.98 253.53,294 253.7,294C253.87,294.01 254.03,294.01 254.2,294.01C254.37,294.01 254.53,294 254.7,293.98C254.87,293.97 255.03,293.94 255.2,293.9C255.37,293.87 255.53,293.82 255.7,293.76C255.87,293.7 256.03,293.62 256.2,293.54C256.37,293.46 256.53,293.35 256.7,293.24C256.87,293.12 257.03,292.98 257.2,292.83C257.37,292.68 257.53,292.51 257.7,292.32C257.87,292.13 258.03,291.91 258.2,291.68C258.37,291.45 258.53,291.19 258.7,290.92C258.87,290.64 259.03,290.34 259.2,290.02C259.37,289.7 259.53,289.35 259.7,288.99C259.87,288.63 260.03,288.24 260.2,287.84C260.37,287.43 260.53,287.01 260.7,286.57C260.87,286.14 261.03,285.68 261.2,285.22C261.37,284.76 261.53,284.28 261.7,283.81C261.87,283.33 262.03,282.85 262.2,282.37C262.37,281.9 262.53,281.41 262.7,280.95C262.87,280.49 263.03,280.03 263.2,279.59C263.37,279.16 263.53,278.73 263.7,278.34C263.87,277.95 264.03,277.58 264.2,277.25C264.37,276.92 264.53,276.6 264.7,276.35C264.87,276.1 265.03,275.86 265.2,275.69C265.37,275.53 265.53,275.35 265.7,275.3C265.87,275.24 266.03,275.19 266.2,275.19C266.37,275.19 266.53,275.28 266.7,275.37C266.87,275.46 267.03,275.65 267.2,275.85C267.37,276.04 267.53,276.31 267.7,276.6C267.87,276.88 268.03,277.23 268.2,277.6C268.37,277.96 268.53,278.38 268.7,278.81C268.87,279.24 269.03,279.71 269.2,280.2C269.37,280.68 269.53,281.2 269.7,281.71C269.87,282.23 270.03,282.77 270.2,283.31C270.37,283.85 270.53,284.4 270.7,284.94C270.87,285.49 271.03,286.04 271.2,286.57C271.37,287.1 271.53,287.64 271.7,288.15C271.87,288.66 272.03,289.17 272.2,289.65C272.37,290.14 272.53,290.61 272.7,291.06C272.87,291.51 273.03,291.94 273.2,292.34C273.37,292.75 273.53,293.14 273.7,293.5C273.87,293.87 274.03,294.21 274.2,294.53C274.37,294.85 274.53,295.15 274.7,295.43C274.87,295.71 275.03,295.97 275.2,296.21C275.37,296.45 275.53,296.67 275.7,296.87C275.87,297.08 276.03,297.26 276.2,297.44C276.23,297.47 276.27,297.5 276.3,297.54" fill="none" stroke="#6aae45" stroke-width="1.25" stroke-linejoin="round"/>
<path d="M98.5,288C99.67,284.67 100.83,281.83 102,278C103.53,272.97 105.07,267.94 106.6,260C107.8,253.78 109,239.38 110.2,233.4C111.53,226.76 112.87,218.5 114.2,218.5C115.23,218.5 116.27,225.67 117.3,229.2C118.7,233.98 120.1,237.74 121.5,243.4C122.47,247.31 123.43,253.41 124.4,257.6C125.33,261.65 126.27,266.29 127.2,268.5C128.63,271.89 130.07,274.58 131.5,275.5C132.73,276.29 133.97,276.88 135.2,277C136.47,277.12 137.73,277.2 139,277.2C140.7,277.2 142.4,276.92 144.1,276.5C144.93,276.29 145.77,275.12 146.6,274.7C147.87,274.07 149.13,273.3 150.4,273.3C151.13,273.3 151.87,273.6 152.6,273.6C153.4,273.6 154.2,268.1 155,268.1C155.6,268.1 156.2,270.4 156.8,270.4C157.83,270.4 158.87,264.3 159.9,264.3C160.63,264.3 161.37,266.5 162.1,266.5C163.23,266.5 164.37,257.7 165.5,257.7C166.23,257.7 166.97,263 167.7,263C168.6,263 169.5,256.3 170.4,256.3C171.27,256.3 172.13,259.2 173,259.2C174.07,259.2 175.13,249.2 176.2,249.2C177.13,249.2 178.07,255.3 179,255.3C180.13,255.3 181.27,245.2 182.4,245.2C183.33,245.2 184.27,249 185.2,249C186.23,249 187.27,235.5 188.3,235.5C189.67,235.5 191.03,249 192.4,249C193.7,249 195,233.7 196.3,233.7C197.93,233.7 199.57,262.3 201.2,262.3C202.63,262.3 204.07,246 205.5,246C208.23,246 210.97,278.55 213.7,278.55C213.87,278.55 214.03,278.08 214.2,277.77C214.37,277.46 214.53,277.07 214.7,276.63C214.87,276.19 215.03,275.65 215.2,275.07C215.37,274.49 215.53,273.8 215.7,273.11C215.87,272.41 216.03,271.63 216.2,270.88C216.37,270.14 216.53,269.34 216.7,268.66C216.87,267.97 217.03,267.25 217.2,266.76C217.37,266.27 217.53,265.7 217.7,265.56C217.87,265.42 218.03,265.3 218.2,265.3C218.37,265.3 218.53,265.73 218.7,266.09C218.87,266.45 219.03,267.15 219.2,267.83C219.37,268.5 219.53,269.38 219.7,270.24C219.87,271.09 220.03,272.07 220.2,272.97C220.37,273.88 220.53,274.83 220.7,275.68C220.87,276.54 221.03,277.38 221.2,278.11C221.37,278.84 221.53,279.53 221.7,280.11C221.87,280.69 222.03,281.22 222.2,281.66C222.37,282.1 222.53,282.48 222.7,282.8C222.87,283.12 223.03,283.4 223.2,283.64C223.37,283.87 223.53,284.07 223.7,284.25C223.87,284.43 224.03,284.58 224.2,284.72C224.37,284.85 224.53,284.98 224.7,285.09C224.87,285.2 225.03,285.3 225.2,285.39C225.37,285.49 225.53,285.57 225.7,285.65C225.87,285.72 226.03,285.79 226.2,285.84C226.37,285.9 226.53,285.95 226.7,285.98C226.87,286.01 227.03,286.04 227.2,286.04C227.37,286.04 227.53,286.03 227.7,286.02C227.87,286 228.03,285.94 228.2,285.88C228.37,285.83 228.53,285.74 228.7,285.64C228.87,285.54 229.03,285.42 229.2,285.28C229.37,285.14 229.53,284.98 229.7,284.79C229.87,284.61 230.03,284.39 230.2,284.16C230.37,283.93 230.53,283.66 230.7,283.38C230.87,283.1 231.03,282.78 231.2,282.45C231.37,282.12 231.53,281.75 231.7,281.38C231.87,281 232.03,280.6 232.2,280.18C232.37,279.77 232.53,279.33 232.7,278.9C232.87,278.46 233.03,278 233.2,277.55C233.37,277.1 233.53,276.64 233.7,276.2C233.87,275.75 234.03,275.31 234.2,274.89C234.37,274.47 234.53,274.06 234.7,273.69C234.87,273.32 235.03,272.96 235.2,272.65C235.37,272.35 235.53,272.06 235.7,271.84C235.87,271.62 236.03,271.41 236.2,271.3C236.37,271.19 236.53,271.06 236.7,271.06C236.87,271.06 237.03,271.1 237.2,271.14C237.37,271.19 237.53,271.39 237.7,271.56C237.87,271.74 238.03,272.02 238.2,272.3C238.37,272.59 238.53,272.95 238.7,273.33C238.87,273.72 239.03,274.16 239.2,274.62C239.37,275.08 239.53,275.58 239.7,276.1C239.87,276.62 240.03,277.17 240.2,277.72C240.37,278.28 240.53,278.85 240.7,279.43C240.87,280 241.03,280.58 241.2,281.15C241.37,281.72 241.53,282.3 241.7,282.85C241.87,283.41 242.03,283.95 242.2,284.48C242.37,285 242.53,285.51 242.7,285.99C242.87,286.47 243.03,286.94 243.2,287.37C243.37,287.81 243.53,288.23 243.7,288.61C243.87,289 244.03,289.36 244.2,289.7C244.37,290.03 244.53,290.34 244.7,290.63C244.87,290.92 245.03,291.19 245.2,291.43C245.37,291.67 245.53,291.89 245.7,292.1C245.87,292.3 246.03,292.49 246.2,292.66C246.37,292.82 246.53,292.98 246.7,293.12C246.87,293.26 247.03,293.39 247.2,293.5C247.37,293.62 247.53,293.73 247.7,293.82C247.87,293.92 248.03,294.01 248.2,294.09C248.37,294.17 248.53,294.25 248.7,294.32C248.87,294.39 249.03,294.45 249.2,294.51C249.37,294.57 249.53,294.63 249.7,294.68C249.87,294.73 250.03,294.78 250.2,294.83C250.37,294.88 250.53,294.92 250.7,294.97C250.87,295.01 251.03,295.05 251.2,295.09C251.37,295.13 251.53,295.16 251.7,295.2C251.87,295.23 252.03,295.26 252.2,295.29C252.37,295.32 252.53,295.35 252.7,295.37C252.87,295.4 253.03,295.42 253.2,295.44C253.37,295.45 253.53,295.47 253.7,295.48C253.87,295.49 254.03,295.5 254.2,295.5C254.37,295.5 254.53,295.5 254.7,295.49C254.87,295.49 255.03,295.47 255.2,295.45C255.37,295.43 255.53,295.4 255.7,295.36C255.87,295.33 256.03,295.28 256.2,295.22C256.37,295.17 256.53,295.1 256.7,295.03C256.87,294.95 257.03,294.86 257.2,294.77C257.37,294.67 257.53,294.55 257.7,294.43C257.87,294.3 258.03,294.16 258.2,294.01C258.37,293.85 258.53,293.68 258.7,293.5C258.87,293.32 259.03,293.12 259.2,292.9C259.37,292.69 259.53,292.46 259.7,292.22C259.87,291.98 260.03,291.72 260.2,291.45C260.37,291.18 260.53,290.9 260.7,290.61C260.87,290.32 261.03,290.01 261.2,289.7C261.37,289.4 261.53,289.08 261.7,288.76C261.87,288.44 262.03,288.12 262.2,287.8C262.37,287.48 262.53,287.16 262.7,286.85C262.87,286.54 263.03,286.23 263.2,285.94C263.37,285.65 263.53,285.36 263.7,285.1C263.87,284.84 264.03,284.59 264.2,284.37C264.37,284.15 264.53,283.94 264.7,283.77C264.87,283.6 265.03,283.44 265.2,283.33C265.37,283.22 265.53,283.1 265.7,283.06C265.87,283.03 266.03,282.99 266.2,282.99C266.37,282.99 266.53,283.06 266.7,283.12C266.87,283.18 267.03,283.3 267.2,283.43C267.37,283.57 267.53,283.75 267.7,283.94C267.87,284.13 268.03,284.36 268.2,284.61C268.37,284.86 268.53,285.14 268.7,285.43C268.87,285.72 269.03,286.03 269.2,286.36C269.37,286.68 269.53,287.03 269.7,287.38C269.87,287.72 270.03,288.09 270.2,288.45C270.37,288.81 270.53,289.18 270.7,289.55C270.87,289.91 271.03,290.28 271.2,290.64C271.37,291 271.53,291.35 271.7,291.7C271.87,292.04 272.03,292.38 272.2,292.71C272.37,293.03 272.53,293.35 272.7,293.65C272.87,293.95 273.03,294.24 273.2,294.52C273.37,294.79 273.53,295.05 273.7,295.3C273.87,295.54 274.03,295.77 274.2,295.99C274.37,296.2 274.53,296.41 274.7,296.59C274.87,296.78 275.03,296.96 275.2,297.12C275.37,297.28 275.53,297.43 275.7,297.57C275.87,297.71 276.03,297.83 276.2,297.95C276.23,297.97 276.27,298 276.3,298.02" fill="none" stroke="#2b4d85" stroke-width="1.25" stroke-linejoin="round"/>
<path d="M99,290.5C99.67,288 100.33,285.98 101,283C101.7,279.87 102.4,274.27 103.1,271.3C104.23,266.49 105.37,261.68 106.5,260C107.5,258.52 108.5,257.1 109.5,257.1C111.13,257.1 112.77,259.59 114.4,261.3C115.83,262.8 117.27,265.53 118.7,267C120.13,268.47 121.57,270.2 123,270.6C124.4,270.99 125.8,271.3 127.2,271.3C128.63,271.3 130.07,270.42 131.5,269.9C132.73,269.45 133.97,269.17 135.2,268.4C136.57,267.55 137.93,262.72 139.3,262.72C140.12,262.72 140.93,264.43 141.75,264.43C142.57,264.43 143.38,258.57 144.2,258.57C145.02,258.57 145.83,260.05 146.65,260.05C147.47,260.05 148.28,253.8 149.1,253.8C149.92,253.8 150.73,255.96 151.55,255.96C152.37,255.96 153.18,250.98 154,250.98C154.82,250.98 155.63,254.18 156.45,254.18C157.27,254.18 158.08,250.19 158.9,250.19C159.72,250.19 160.53,253.96 161.35,253.96C162.17,253.96 162.98,250.26 163.8,250.26C164.62,250.26 165.43,254.17 166.25,254.17C167.37,254.17 168.48,243.2 169.6,243.2C170.43,243.2 171.27,249.2 172.1,249.2C173.2,249.2 174.3,237.4 175.4,237.4C176.33,237.4 177.27,243.7 178.2,243.7C179.2,243.7 180.2,228 181.2,228C182.3,228 183.4,240.2 184.5,240.2C185.63,240.2 186.77,218.8 187.9,218.8C189.4,218.8 190.9,242.7 192.4,242.7C193.53,242.7 194.67,222.5 195.8,222.5C197.6,222.5 199.4,262.5 201.2,262.5C202.6,262.5 204,246.2 205.4,246.2C208.13,246.2 210.87,278.39 213.6,278.39C213.77,278.39 213.93,277.76 214.1,277.34C214.27,276.92 214.43,276.37 214.6,275.75C214.77,275.14 214.93,274.36 215.1,273.54C215.27,272.73 215.43,271.75 215.6,270.8C215.77,269.86 215.93,268.78 216.1,267.85C216.27,266.92 216.43,265.91 216.6,265.2C216.77,264.49 216.93,263.65 217.1,263.42C217.27,263.2 217.43,263 217.6,263C217.77,263 217.93,263.6 218.1,264.1C218.27,264.61 218.43,265.61 218.6,266.55C218.77,267.49 218.93,268.72 219.1,269.86C219.27,271.01 219.43,272.3 219.6,273.46C219.77,274.61 219.93,275.79 220.1,276.81C220.27,277.82 220.43,278.8 220.6,279.6C220.77,280.41 220.93,281.14 221.1,281.74C221.27,282.33 221.43,282.85 221.6,283.28C221.77,283.7 221.93,284.06 222.1,284.37C222.27,284.68 222.43,284.93 222.6,285.16C222.77,285.4 222.93,285.6 223.1,285.78C223.27,285.97 223.43,286.14 223.6,286.31C223.77,286.47 223.93,286.62 224.1,286.77C224.27,286.92 224.43,287.06 224.6,287.2C224.77,287.33 224.93,287.47 225.1,287.59C225.27,287.71 225.43,287.83 225.6,287.94C225.77,288.05 225.93,288.16 226.1,288.25C226.27,288.34 226.43,288.43 226.6,288.5C226.77,288.57 226.93,288.64 227.1,288.69C227.27,288.73 227.43,288.78 227.6,288.79C227.77,288.79 227.93,288.79 228.1,288.79C228.27,288.79 228.43,288.73 228.6,288.69C228.77,288.65 228.93,288.58 229.1,288.51C229.27,288.43 229.43,288.33 229.6,288.22C229.77,288.11 229.93,287.98 230.1,287.83C230.27,287.68 230.43,287.51 230.6,287.32C230.77,287.13 230.93,286.92 231.1,286.7C231.27,286.47 231.43,286.22 231.6,285.96C231.77,285.7 231.93,285.42 232.1,285.13C232.27,284.83 232.43,284.52 232.6,284.21C232.77,283.9 232.93,283.57 233.1,283.25C233.27,282.92 233.43,282.59 233.6,282.27C233.77,281.95 233.93,281.62 234.1,281.31C234.27,281.01 234.43,280.71 234.6,280.43C234.77,280.16 234.93,279.9 235.1,279.67C235.27,279.45 235.43,279.23 235.6,279.07C235.77,278.92 235.93,278.76 236.1,278.68C236.27,278.6 236.43,278.51 236.6,278.51C236.77,278.51 236.93,278.55 237.1,278.6C237.27,278.65 237.43,278.8 237.6,278.94C237.77,279.09 237.93,279.31 238.1,279.54C238.27,279.77 238.43,280.06 238.6,280.36C238.77,280.67 238.93,281.02 239.1,281.39C239.27,281.76 239.43,282.16 239.6,282.58C239.77,282.99 239.93,283.44 240.1,283.88C240.27,284.33 240.43,284.8 240.6,285.26C240.77,285.72 240.93,286.19 241.1,286.66C241.27,287.12 241.43,287.59 241.6,288.04C241.77,288.49 241.93,288.94 242.1,289.37C242.27,289.8 242.43,290.22 242.6,290.61C242.77,291.01 242.93,291.4 243.1,291.76C243.27,292.12 243.43,292.46 243.6,292.78C243.77,293.1 243.93,293.41 244.1,293.69C244.27,293.97 244.43,294.23 244.6,294.48C244.77,294.72 244.93,294.94 245.1,295.15C245.27,295.35 245.43,295.54 245.6,295.71C245.77,295.89 245.93,296.05 246.1,296.19C246.27,296.33 246.43,296.46 246.6,296.58C246.77,296.7 246.93,296.81 247.1,296.91C247.27,297.01 247.43,297.1 247.6,297.18C247.77,297.26 247.93,297.33 248.1,297.4C248.27,297.47 248.43,297.53 248.6,297.58C248.77,297.64 248.93,297.69 249.1,297.74C249.27,297.79 249.43,297.83 249.6,297.87C249.77,297.91 249.93,297.94 250.1,297.98C250.27,298.01 250.43,298.04 250.6,298.07C250.77,298.1 250.93,298.12 251.1,298.15C251.27,298.17 251.43,298.19 251.6,298.21C251.77,298.22 251.93,298.24 252.1,298.25C252.27,298.27 252.43,298.28 252.6,298.28C252.77,298.29 252.93,298.3 253.1,298.3C253.27,298.3 253.43,298.3 253.6,298.3C253.77,298.29 253.93,298.29 254.1,298.28C254.27,298.27 254.43,298.26 254.6,298.24C254.77,298.23 254.93,298.21 255.1,298.18C255.27,298.16 255.43,298.13 255.6,298.1C255.77,298.07 255.93,298.03 256.1,297.99C256.27,297.94 256.43,297.89 256.6,297.83C256.77,297.78 256.93,297.71 257.1,297.64C257.27,297.57 257.43,297.49 257.6,297.4C257.77,297.31 257.93,297.21 258.1,297.1C258.27,297 258.43,296.88 258.6,296.76C258.77,296.63 258.93,296.49 259.1,296.35C259.27,296.2 259.43,296.05 259.6,295.88C259.77,295.72 259.93,295.54 260.1,295.36C260.27,295.18 260.43,294.99 260.6,294.79C260.77,294.6 260.93,294.39 261.1,294.18C261.27,293.97 261.43,293.76 261.6,293.54C261.77,293.33 261.93,293.11 262.1,292.89C262.27,292.67 262.43,292.45 262.6,292.24C262.77,292.03 262.93,291.81 263.1,291.61C263.27,291.41 263.43,291.21 263.6,291.03C263.77,290.84 263.93,290.67 264.1,290.51C264.27,290.35 264.43,290.2 264.6,290.07C264.77,289.94 264.93,289.82 265.1,289.73C265.27,289.64 265.43,289.55 265.6,289.51C265.77,289.46 265.93,289.4 266.1,289.4C266.27,289.4 266.43,289.42 266.6,289.43C266.77,289.45 266.93,289.52 267.1,289.58C267.27,289.65 267.43,289.75 267.6,289.86C267.77,289.97 267.93,290.1 268.1,290.25C268.27,290.39 268.43,290.56 268.6,290.73C268.77,290.9 268.93,291.09 269.1,291.29C269.27,291.49 269.43,291.7 269.6,291.91C269.77,292.13 269.93,292.35 270.1,292.58C270.27,292.8 270.43,293.03 270.6,293.26C270.77,293.48 270.93,293.71 271.1,293.94C271.27,294.16 271.43,294.39 271.6,294.6C271.77,294.82 271.93,295.03 272.1,295.24C272.27,295.44 272.43,295.64 272.6,295.83C272.77,296.02 272.93,296.2 273.1,296.37C273.27,296.54 273.43,296.71 273.6,296.86C273.77,297.01 273.93,297.16 274.1,297.29C274.27,297.43 274.43,297.55 274.6,297.67C274.77,297.78 274.93,297.89 275.1,297.99C275.27,298.09 275.43,298.18 275.6,298.26C275.77,298.34 275.93,298.41 276.1,298.48C276.17,298.51 276.23,298.54 276.3,298.56" fill="none" stroke="#ab0f30" stroke-width="1.25" stroke-linejoin="round"/>
<path d="M98.4,283C99.5,276.67 100.6,272.07 101.7,264C102.63,257.16 103.57,242.51 104.5,236.3C105.17,231.86 105.83,227.84 106.5,226C107.33,223.7 108.17,221.4 109,221.4C110.57,221.4 112.13,225.93 113.7,229.2C115.37,232.68 117.03,238.89 118.7,243.4C119.87,246.56 121.03,250.13 122.2,252.5C123.4,254.94 124.6,256.97 125.8,258.5C127.2,260.29 128.6,261.87 130,262.8C131.43,263.75 132.87,264.9 134.3,264.9C136.03,264.9 137.77,263.1 139.5,263.1C140.32,263.1 141.13,264.68 141.95,264.68C142.77,264.68 143.58,263.18 144.4,263.18C145.22,263.18 146.03,264.06 146.85,264.06C147.67,264.06 148.48,261.48 149.3,261.48C150.12,261.48 150.93,262.28 151.75,262.28C152.57,262.28 153.38,259.94 154.2,259.94C155.02,259.94 155.83,260.89 156.65,260.89C157.47,260.89 158.28,259.75 159.1,258.68C160.83,256.4 162.57,242.6 164.3,242.6C165.33,242.6 166.37,245.5 167.4,245.5C168.33,245.5 169.27,234.7 170.2,234.7C171.23,234.7 172.27,239.3 173.3,239.3C174.17,239.3 175.03,225.8 175.9,225.8C176.7,225.8 177.5,235.5 178.3,235.5C179.2,235.5 180.1,224.1 181,224.1C182.17,224.1 183.33,239.4 184.5,239.4C185.63,239.4 186.77,222.5 187.9,222.5C189.37,222.5 190.83,242.2 192.3,242.2C193.5,242.2 194.7,221 195.9,221C197.47,221 199.03,244.1 200.6,244.1C202.17,244.1 203.73,218.7 205.3,218.7C207.77,218.7 210.23,267.96 212.7,267.96C212.87,267.96 213.03,267.37 213.2,267C213.37,266.64 213.53,266.21 213.7,265.73C213.87,265.25 214.03,264.69 214.2,264.08C214.37,263.47 214.53,262.77 214.7,262.03C214.87,261.29 215.03,260.46 215.2,259.61C215.37,258.75 215.53,257.81 215.7,256.89C215.87,255.96 216.03,254.97 216.2,254.03C216.37,253.09 216.53,252.12 216.7,251.26C216.87,250.39 217.03,249.52 217.2,248.82C217.37,248.13 217.53,247.43 217.7,247C217.87,246.57 218.03,246.01 218.2,246C218.37,246 218.53,246 218.7,246C218.87,246 219.03,246.58 219.2,247.04C219.37,247.5 219.53,248.27 219.7,249.06C219.87,249.85 220.03,250.87 220.2,251.9C220.37,252.94 220.53,254.13 220.7,255.32C220.87,256.51 221.03,257.81 221.2,259.06C221.37,260.31 221.53,261.61 221.7,262.84C221.87,264.07 222.03,265.3 222.2,266.44C222.37,267.58 222.53,268.69 222.7,269.69C222.87,270.7 223.03,271.65 223.2,272.5C223.37,273.35 223.53,274.15 223.7,274.84C223.87,275.54 224.03,276.17 224.2,276.73C224.37,277.28 224.53,277.77 224.7,278.2C224.87,278.63 225.03,279.01 225.2,279.33C225.37,279.66 225.53,279.94 225.7,280.18C225.87,280.42 226.03,280.63 226.2,280.8C226.37,280.97 226.53,281.12 226.7,281.23C226.87,281.34 227.03,281.44 227.2,281.49C227.37,281.54 227.53,281.59 227.7,281.59C227.87,281.59 228.03,281.56 228.2,281.52C228.37,281.49 228.53,281.4 228.7,281.31C228.87,281.22 229.03,281.1 229.2,280.96C229.37,280.82 229.53,280.65 229.7,280.46C229.87,280.26 230.03,280.04 230.2,279.79C230.37,279.54 230.53,279.26 230.7,278.96C230.87,278.65 231.03,278.31 231.2,277.95C231.37,277.59 231.53,277.2 231.7,276.79C231.87,276.38 232.03,275.94 232.2,275.49C232.37,275.04 232.53,274.57 232.7,274.09C232.87,273.61 233.03,273.11 233.2,272.62C233.37,272.12 233.53,271.62 233.7,271.13C233.87,270.65 234.03,270.16 234.2,269.7C234.37,269.24 234.53,268.79 234.7,268.38C234.87,267.97 235.03,267.57 235.2,267.24C235.37,266.9 235.53,266.58 235.7,266.34C235.87,266.1 236.03,265.86 236.2,265.73C236.37,265.61 236.53,265.46 236.7,265.46C236.87,265.46 237.03,265.5 237.2,265.55C237.37,265.59 237.53,265.8 237.7,266C237.87,266.19 238.03,266.48 238.2,266.8C238.37,267.11 238.53,267.5 238.7,267.92C238.87,268.33 239.03,268.81 239.2,269.31C239.37,269.81 239.53,270.36 239.7,270.92C239.87,271.49 240.03,272.09 240.2,272.69C240.37,273.3 240.53,273.93 240.7,274.55C240.87,275.17 241.03,275.81 241.2,276.43C241.37,277.05 241.53,277.68 241.7,278.28C241.87,278.89 242.03,279.48 242.2,280.05C242.37,280.62 242.53,281.18 242.7,281.71C242.87,282.23 243.03,282.74 243.2,283.21C243.37,283.69 243.53,284.14 243.7,284.56C243.87,284.98 244.03,285.38 244.2,285.74C244.37,286.11 244.53,286.45 244.7,286.76C244.87,287.07 245.03,287.36 245.2,287.63C245.37,287.89 245.53,288.14 245.7,288.36C245.87,288.58 246.03,288.79 246.2,288.97C246.37,289.16 246.53,289.33 246.7,289.48C246.87,289.63 247.03,289.77 247.2,289.9C247.37,290.03 247.53,290.15 247.7,290.26C247.87,290.37 248.03,290.47 248.2,290.56C248.37,290.65 248.53,290.74 248.7,290.82C248.87,290.9 249.03,290.98 249.2,291.05C249.37,291.12 249.53,291.19 249.7,291.25C249.87,291.32 250.03,291.38 250.2,291.44C250.37,291.5 250.53,291.56 250.7,291.62C250.87,291.67 251.03,291.73 251.2,291.78C251.37,291.84 251.53,291.89 251.7,291.94C251.87,291.99 252.03,292.04 252.2,292.09C252.37,292.14 252.53,292.18 252.7,292.23C252.87,292.27 253.03,292.32 253.2,292.36C253.37,292.4 253.53,292.44 253.7,292.48C253.87,292.51 254.03,292.55 254.2,292.58C254.37,292.61 254.53,292.64 254.7,292.66C254.87,292.68 255.03,292.7 255.2,292.71C255.37,292.72 255.53,292.73 255.7,292.73C255.87,292.73 256.03,292.73 256.2,292.72C256.37,292.71 256.53,292.69 256.7,292.66C256.87,292.64 257.03,292.6 257.2,292.55C257.37,292.51 257.53,292.45 257.7,292.39C257.87,292.32 258.03,292.25 258.2,292.16C258.37,292.08 258.53,291.98 258.7,291.87C258.87,291.77 259.03,291.65 259.2,291.52C259.37,291.39 259.53,291.25 259.7,291.1C259.87,290.94 260.03,290.78 260.2,290.61C260.37,290.44 260.53,290.26 260.7,290.07C260.87,289.89 261.03,289.69 261.2,289.49C261.37,289.29 261.53,289.08 261.7,288.87C261.87,288.67 262.03,288.46 262.2,288.25C262.37,288.04 262.53,287.83 262.7,287.63C262.87,287.43 263.03,287.23 263.2,287.04C263.37,286.86 263.53,286.67 263.7,286.51C263.87,286.34 264.03,286.19 264.2,286.05C264.37,285.92 264.53,285.79 264.7,285.69C264.87,285.6 265.03,285.5 265.2,285.45C265.37,285.4 265.53,285.34 265.7,285.34C265.87,285.34 266.03,285.36 266.2,285.38C266.37,285.39 266.53,285.48 266.7,285.56C266.87,285.63 267.03,285.75 267.2,285.88C267.37,286.01 267.53,286.17 267.7,286.34C267.87,286.51 268.03,286.71 268.2,286.92C268.37,287.13 268.53,287.37 268.7,287.62C268.87,287.86 269.03,288.12 269.2,288.39C269.37,288.66 269.53,288.95 269.7,289.24C269.87,289.52 270.03,289.82 270.2,290.12C270.37,290.41 270.53,290.72 270.7,291.02C270.87,291.32 271.03,291.62 271.2,291.91C271.37,292.21 271.53,292.5 271.7,292.79C271.87,293.07 272.03,293.35 272.2,293.62C272.37,293.89 272.53,294.16 272.7,294.41C272.87,294.66 273.03,294.91 273.2,295.14C273.37,295.37 273.53,295.59 273.7,295.8C273.87,296.01 274.03,296.21 274.2,296.4C274.37,296.59 274.53,296.77 274.7,296.94C274.87,297.11 275.03,297.27 275.2,297.41C275.37,297.56 275.53,297.7 275.7,297.83C275.87,297.97 276.03,298.09 276.2,298.2C276.23,298.23 276.27,298.25 276.3,298.27" fill="none" stroke="#56266e" stroke-width="1.25" stroke-linejoin="round"/>
<text x="291.6" y="183.3" font-size="12.3" class="lt" fill="#000" font-weight="bold">G</text>
<line x1="325.1" y1="189.9" x2="325.1" y2="265.9" stroke="#231f20" stroke-width="1"/>
<line x1="322.8" y1="265.4" x2="413.7" y2="265.4" stroke="#231f20" stroke-width="1"/>
<line x1="322.8" y1="265.4" x2="325.1" y2="265.4" stroke="#231f20" stroke-width="1"/>
<text x="317.6" y="267.6" font-size="6.3" class="lt" text-anchor="middle" stroke="#231f20" stroke-width="0.04">0</text>
<line x1="322.8" y1="250.88" x2="325.1" y2="250.88" stroke="#231f20" stroke-width="1"/>
<text x="317.6" y="253.08" font-size="6.3" class="lt" text-anchor="middle" stroke="#231f20" stroke-width="0.04">1</text>
<line x1="322.8" y1="236.36" x2="325.1" y2="236.36" stroke="#231f20" stroke-width="1"/>
<text x="317.6" y="238.56" font-size="6.3" class="lt" text-anchor="middle" stroke="#231f20" stroke-width="0.04">2</text>
<line x1="322.8" y1="221.84" x2="325.1" y2="221.84" stroke="#231f20" stroke-width="1"/>
<text x="317.6" y="224.04" font-size="6.3" class="lt" text-anchor="middle" stroke="#231f20" stroke-width="0.04">3</text>
<line x1="322.8" y1="207.32" x2="325.1" y2="207.32" stroke="#231f20" stroke-width="1"/>
<text x="317.6" y="209.52" font-size="6.3" class="lt" text-anchor="middle" stroke="#231f20" stroke-width="0.04">4</text>
<line x1="322.8" y1="192.8" x2="325.1" y2="192.8" stroke="#231f20" stroke-width="1"/>
<text x="317.6" y="195" font-size="6.3" class="lt" text-anchor="middle" stroke="#231f20" stroke-width="0.04">5</text>
<text x="298.8" y="226.8" font-size="7.6" text-anchor="middle" transform="rotate(-90 298.8 226.8)" textLength="68.5" lengthAdjust="spacingAndGlyphs" stroke="#231f20" stroke-width="0.15">Ratio of high/low VWF</text>
<text x="310" y="223.4" font-size="7.6" text-anchor="middle" transform="rotate(-90 310 223.4)" textLength="31.8" lengthAdjust="spacingAndGlyphs" stroke="#231f20" stroke-width="0.15">mutimers</text>
<rect x="329.1" y="231.7" width="14.5" height="33.7" fill="#2b4d85"/>
<line x1="336.35" y1="221.5" x2="336.35" y2="231.7" stroke="#2b4d85" stroke-width="1"/>
<line x1="332.95" y1="221.5" x2="339.75" y2="221.5" stroke="#2b4d85" stroke-width="1"/>
<rect x="350.7" y="227.4" width="14.7" height="38" fill="#ab0f30"/>
<line x1="358.05" y1="205.6" x2="358.05" y2="227.4" stroke="#ab0f30" stroke-width="1"/>
<line x1="354.65" y1="205.6" x2="361.45" y2="205.6" stroke="#ab0f30" stroke-width="1"/>
<rect x="372.8" y="234" width="14.5" height="31.4" fill="#6aae45"/>
<line x1="380.05" y1="220.6" x2="380.05" y2="234" stroke="#6aae45" stroke-width="1"/>
<line x1="376.65" y1="220.6" x2="383.45" y2="220.6" stroke="#6aae45" stroke-width="1"/>
<rect x="394.7" y="241.3" width="14.7" height="24.1" fill="#56266e"/>
<line x1="402.05" y1="228.8" x2="402.05" y2="241.3" stroke="#56266e" stroke-width="1"/>
<line x1="398.65" y1="228.8" x2="405.45" y2="228.8" stroke="#56266e" stroke-width="1"/>
<line x1="336.5" y1="265.4" x2="336.5" y2="267.6" stroke="#231f20" stroke-width="1"/>
<line x1="358.3" y1="265.4" x2="358.3" y2="267.6" stroke="#231f20" stroke-width="1"/>
<line x1="380.2" y1="265.4" x2="380.2" y2="267.6" stroke="#231f20" stroke-width="1"/>
<line x1="401.8" y1="265.4" x2="401.8" y2="267.6" stroke="#231f20" stroke-width="1"/>
<text x="339.3" y="274.8" font-size="6.3" transform="rotate(-45 339.3 274.8)" text-anchor="end" stroke="#231f20" stroke-width="0.15">wt</text>
<text x="362.0" y="274.8" font-size="6.3" transform="rotate(-45 362.0 274.8)" text-anchor="end" stroke="#231f20" stroke-width="0.15">a13<tspan font-size="4.3" dy="-2.4" stroke-width="0.1">-/-</tspan></text>
<text x="383.3" y="274.8" font-size="6.3" transform="rotate(-45 383.3 274.8)" text-anchor="end" stroke="#231f20" stroke-width="0.15">a13<tspan font-size="4.3" dy="-2.4" stroke-width="0.1">-/-</tspan><tspan dy="2.4">cfh</tspan><tspan font-size="4.3" dy="-2.4" stroke-width="0.1">W/W</tspan></text>
<text x="404.8" y="274.8" font-size="6.3" transform="rotate(-45 404.8 274.8)" text-anchor="end" stroke="#231f20" stroke-width="0.15">a13<tspan font-size="4.3" dy="-2.4" stroke-width="0.1">-/-</tspan><tspan dy="2.4">cfh</tspan><tspan font-size="4.3" dy="-2.4" stroke-width="0.1">R/R</tspan></text>
<text x="311" y="307.4" font-size="5.6" class="lt" stroke="#231f20" stroke-width="0.04">n=</text>
<text x="336" y="307.4" font-size="6.3" class="lt" text-anchor="middle" stroke="#231f20" stroke-width="0.04">4</text>
<text x="357" y="307.4" font-size="6.3" class="lt" text-anchor="middle" stroke="#231f20" stroke-width="0.04">5</text>
<text x="377.3" y="307.4" font-size="6.3" class="lt" text-anchor="middle" stroke="#231f20" stroke-width="0.04">5</text>
<text x="401.6" y="307.4" font-size="6.3" class="lt" text-anchor="middle" stroke="#231f20" stroke-width="0.04">5</text>
<line x1="347.7" y1="301.5" x2="347.7" y2="309" stroke="#231f20" stroke-width="1"/>
<line x1="367.5" y1="301.5" x2="367.5" y2="309" stroke="#231f20" stroke-width="1"/>
<line x1="391" y1="301.5" x2="391" y2="309" stroke="#231f20" stroke-width="1"/>
<rect x="0.5" y="0.5" width="519" height="316" fill="none" stroke="#000" stroke-width="1"/>
</svg>
</body></html>
